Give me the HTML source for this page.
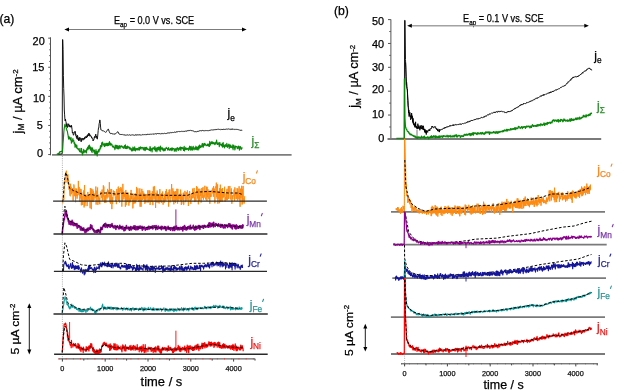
<!DOCTYPE html>
<html><head><meta charset="utf-8"><title>figure</title>
<style>html,body{margin:0;padding:0;background:#fff;width:637px;height:391px;overflow:hidden}svg{display:block;filter:blur(0.3px)}</style>
</head><body>
<svg width="637" height="391" viewBox="0 0 637 391" font-family='"Liberation Sans", sans-serif'>
<rect width="637" height="391" fill="#ffffff"/>
<text x="-0.60" y="23.10" font-size="12.20" fill="#000" text-anchor="start"  stroke="#000" stroke-width="0.25">(a)</text>
<text x="114.0" y="24.2" font-size="10.8" fill="#000" textLength="80.2" lengthAdjust="spacingAndGlyphs" stroke="#000" stroke-width="0.25">E<tspan font-size="7.5" dy="2.6">ap</tspan><tspan dy="-2.6"> = 0.0 V vs. SCE</tspan></text>
<line x1="68.00" y1="29.50" x2="242.00" y2="29.50" stroke="#7c7c7c" stroke-width="1.20"/>
<polygon points="64.40,29.50 69.00,27.40 69.00,31.60" fill="#000"/>
<polygon points="246.60,29.50 242.00,27.40 242.00,31.60" fill="#000"/>
<line x1="50.50" y1="37.30" x2="50.50" y2="155.30" stroke="#555555" stroke-width="1.00"/>
<line x1="48.20" y1="154.55" x2="50.50" y2="154.55" stroke="#555555" stroke-width="1.00"/>
<line x1="49.20" y1="148.73" x2="50.50" y2="148.73" stroke="#555555" stroke-width="0.90"/>
<line x1="49.20" y1="142.91" x2="50.50" y2="142.91" stroke="#555555" stroke-width="0.90"/>
<line x1="49.20" y1="137.09" x2="50.50" y2="137.09" stroke="#555555" stroke-width="0.90"/>
<line x1="49.20" y1="131.27" x2="50.50" y2="131.27" stroke="#555555" stroke-width="0.90"/>
<line x1="48.20" y1="125.45" x2="50.50" y2="125.45" stroke="#555555" stroke-width="1.00"/>
<line x1="49.20" y1="119.63" x2="50.50" y2="119.63" stroke="#555555" stroke-width="0.90"/>
<line x1="49.20" y1="113.81" x2="50.50" y2="113.81" stroke="#555555" stroke-width="0.90"/>
<line x1="49.20" y1="107.99" x2="50.50" y2="107.99" stroke="#555555" stroke-width="0.90"/>
<line x1="49.20" y1="102.17" x2="50.50" y2="102.17" stroke="#555555" stroke-width="0.90"/>
<line x1="48.20" y1="96.35" x2="50.50" y2="96.35" stroke="#555555" stroke-width="1.00"/>
<line x1="49.20" y1="90.53" x2="50.50" y2="90.53" stroke="#555555" stroke-width="0.90"/>
<line x1="49.20" y1="84.71" x2="50.50" y2="84.71" stroke="#555555" stroke-width="0.90"/>
<line x1="49.20" y1="78.89" x2="50.50" y2="78.89" stroke="#555555" stroke-width="0.90"/>
<line x1="49.20" y1="73.07" x2="50.50" y2="73.07" stroke="#555555" stroke-width="0.90"/>
<line x1="48.20" y1="67.25" x2="50.50" y2="67.25" stroke="#555555" stroke-width="1.00"/>
<line x1="49.20" y1="61.43" x2="50.50" y2="61.43" stroke="#555555" stroke-width="0.90"/>
<line x1="49.20" y1="55.61" x2="50.50" y2="55.61" stroke="#555555" stroke-width="0.90"/>
<line x1="49.20" y1="49.79" x2="50.50" y2="49.79" stroke="#555555" stroke-width="0.90"/>
<line x1="49.20" y1="43.97" x2="50.50" y2="43.97" stroke="#555555" stroke-width="0.90"/>
<line x1="48.20" y1="38.15" x2="50.50" y2="38.15" stroke="#555555" stroke-width="1.00"/>
<text x="38.65" y="44.50" font-size="10.90" fill="#000" text-anchor="middle"  stroke="#000" stroke-width="0.25">20</text>
<text x="38.30" y="71.30" font-size="10.90" fill="#000" text-anchor="middle"  stroke="#000" stroke-width="0.25">15</text>
<text x="39.00" y="101.55" font-size="10.90" fill="#000" text-anchor="middle"  stroke="#000" stroke-width="0.25">10</text>
<text x="39.70" y="129.45" font-size="10.90" fill="#000" text-anchor="middle"  stroke="#000" stroke-width="0.25">5</text>
<text x="40.10" y="156.95" font-size="10.90" fill="#000" text-anchor="middle"  stroke="#000" stroke-width="0.25">0</text>
<text transform="translate(22.0,133.4) rotate(-90)" font-size="13" fill="#000" textLength="64" lengthAdjust="spacingAndGlyphs" stroke="#000" stroke-width="0.25">j<tspan font-size="8.2" dy="2.4">M</tspan><tspan dy="-2.4"> / µA cm</tspan><tspan font-size="8" dy="-3.8">-2</tspan></text>
<line x1="62.40" y1="156.00" x2="62.40" y2="361.00" stroke="#9a9a9a" stroke-width="0.80" stroke-dasharray="1,1.2"/>
<line x1="52.00" y1="154.80" x2="291.60" y2="154.80" stroke="#7d7d7d" stroke-width="1.80"/>
<polyline points="58.00,154.40 62.20,153.80 62.50,39.60 62.80,39.60 63.10,49.73 63.40,75.33 63.70,88.50 64.00,96.00 64.30,110.00 64.60,114.85 64.90,119.00 65.20,121.00 65.50,119.21 65.80,121.44 66.10,121.82 66.40,126.29 66.70,126.60 67.00,123.60 67.30,127.59 67.60,127.37 67.90,125.87 68.20,125.56 68.50,123.88 68.80,123.84 69.10,126.68 69.40,125.20 69.70,126.35 70.00,127.16 70.30,125.61 70.60,126.90 70.90,126.18 71.20,127.33 71.50,125.29 71.80,127.46 72.10,129.61 72.40,133.09 72.70,133.04 73.00,132.14 73.30,135.20 73.60,135.09 73.90,134.29 74.20,133.60 74.50,131.77 74.80,131.28 75.10,131.73 75.40,131.56 75.70,135.41 76.00,134.59 76.30,137.34 76.60,136.10 76.90,138.92 77.20,138.73 77.50,135.30 77.80,136.52 78.10,139.91 78.40,138.27 78.70,140.81 79.00,138.55 79.30,137.24 79.60,139.80 79.90,140.57 80.20,138.45 80.50,137.76 80.80,138.96 81.10,141.85 81.40,141.06 81.70,138.28 82.00,138.72 82.30,138.59 82.60,138.35 82.90,140.29 83.20,138.43 83.50,139.37 83.80,138.94 84.10,138.04 84.40,139.28 84.70,137.32 85.00,138.48 85.30,136.73 85.60,137.30 85.90,136.44 86.20,136.32 86.50,138.01 86.80,137.23 87.10,135.51 87.40,136.81 87.70,134.60 88.00,134.79 88.30,135.75 88.60,134.83 88.90,132.99 89.20,135.66 89.50,133.92 89.80,134.48 90.10,136.35 90.40,135.54 90.70,135.89 91.00,135.68 91.30,136.13 91.60,137.92 91.90,137.38 92.20,138.79 92.50,138.55 92.80,139.19 93.10,141.01 93.40,139.75 93.70,139.41 94.00,139.63 94.30,137.11 94.60,136.43 94.90,137.94 95.20,137.09 95.50,134.90 95.80,134.13 96.10,136.29 96.40,137.47 96.70,136.01 97.00,138.74 97.30,139.16 97.60,136.93 97.90,133.92 98.20,130.54 98.50,127.86 98.80,127.96 99.10,123.67 99.40,123.17 99.70,120.12 100.00,119.91 100.30,123.18 100.60,127.13 100.90,129.84 101.20,130.27 101.50,129.97 101.80,130.17 102.10,130.47 102.40,130.74 102.70,130.70 103.00,130.60 103.30,131.11 103.60,130.88 103.90,130.96 104.20,131.30 104.50,131.60 104.80,131.56 105.10,131.82 105.40,132.13 105.70,132.44 106.00,131.77 106.30,131.50 106.60,131.41 106.90,131.06 107.20,130.45 107.50,130.07 107.80,129.59 108.10,128.92 108.40,129.20 108.70,129.91 109.00,131.16 109.30,131.75 109.60,132.62 109.90,132.77 110.20,133.41 110.50,133.36 110.80,133.55 111.10,133.35 111.40,133.80 111.70,133.28 112.00,133.61 112.30,133.76 112.60,133.90 112.90,133.85 113.20,133.87 113.50,133.97 113.80,134.08 114.10,133.79 114.40,134.03 114.70,134.20 115.00,134.22 115.30,133.73 115.60,133.72 115.90,133.54 116.20,133.14 116.50,132.95 116.80,132.58 117.10,132.47 117.40,132.27 117.70,131.72 118.00,131.83 118.30,132.20 118.60,133.03 118.90,133.84 119.20,133.97 119.50,134.23 119.80,134.18 120.10,134.15 120.40,134.44 120.70,134.04 121.00,134.49 121.30,134.11 121.60,134.50 121.90,134.48 122.20,134.38 122.50,134.71 122.80,134.64 123.10,134.76 123.40,135.00 123.70,134.65 124.00,134.55 124.30,134.78 124.60,135.06 124.90,134.82 125.20,134.80 125.50,135.24 125.80,135.10 126.10,134.97 126.40,135.24 126.70,134.90 127.00,135.10 127.30,134.82 127.60,134.96 127.90,135.18 128.20,135.25 128.50,135.23 128.80,134.93 129.10,135.05 129.40,134.89 129.70,134.78 130.00,135.00 130.30,135.20 130.60,135.21 130.90,135.13 131.20,135.27 131.50,134.87 131.80,134.80 132.10,134.97 132.40,134.87 132.70,134.83 133.00,134.95 133.30,135.08 133.60,135.00 133.90,134.89 134.20,135.20 134.50,135.29 134.80,134.97 135.10,134.74 135.40,134.72 135.70,135.22 136.00,134.72 136.30,135.13 136.60,135.04 136.90,134.89 137.20,135.17 137.50,134.71 137.80,134.78 138.10,134.97 138.40,134.71 138.70,135.20 139.00,134.84 139.30,134.78 139.60,134.73 139.90,135.08 140.20,134.95 140.50,135.03 140.80,135.02 141.10,135.09 141.40,135.15 141.70,134.96 142.00,134.64 142.30,134.78 142.60,134.57 142.90,134.45 143.20,134.70 143.50,134.81 143.80,134.47 144.10,134.49 144.40,134.51 144.70,134.70 145.00,134.56 145.30,134.59 145.60,134.65 145.90,134.41 146.20,134.62 146.50,134.66 146.80,134.14 147.10,134.62 147.40,134.47 147.70,134.08 148.00,134.25 148.30,134.33 148.60,134.47 148.90,134.13 149.20,134.21 149.50,134.37 149.80,134.30 150.10,134.36 150.40,134.06 150.70,134.16 151.00,133.89 151.30,134.18 151.60,134.23 151.90,134.11 152.20,134.15 152.50,133.83 152.80,134.23 153.10,134.27 153.40,134.26 153.70,133.98 154.00,134.12 154.30,133.83 154.60,134.17 154.90,134.13 155.20,133.81 155.50,133.64 155.80,133.85 156.10,133.90 156.40,134.02 156.70,133.84 157.00,133.55 157.30,134.01 157.60,133.55 157.90,133.98 158.20,133.60 158.50,133.68 158.80,133.94 159.10,133.54 159.40,133.54 159.70,133.75 160.00,133.86 160.30,133.92 160.60,133.82 160.90,133.96 161.20,133.67 161.50,133.94 161.80,133.41 162.10,133.48 162.40,133.65 162.70,133.50 163.00,133.75 163.30,133.68 163.60,133.58 163.90,133.73 164.20,133.53 164.50,133.34 164.80,133.35 165.10,133.59 165.40,133.59 165.70,133.14 166.00,133.49 166.30,133.52 166.60,133.22 166.90,133.21 167.20,132.95 167.50,133.12 167.80,133.06 168.10,133.09 168.40,132.70 168.70,133.23 169.00,132.92 169.30,132.82 169.60,133.02 169.90,132.84 170.20,132.76 170.50,132.85 170.80,132.44 171.10,132.68 171.40,132.57 171.70,132.86 172.00,132.81 172.30,132.38 172.60,132.47 172.90,132.22 173.20,132.37 173.50,132.56 173.80,132.58 174.10,132.29 174.40,132.15 174.70,132.04 175.00,132.26 175.30,132.41 175.60,131.90 175.90,132.25 176.20,131.76 176.50,131.83 176.80,131.82 177.10,132.06 177.40,131.81 177.70,131.80 178.00,131.92 178.30,131.58 178.60,131.93 178.90,131.53 179.20,131.73 179.50,131.54 179.80,131.48 180.10,131.64 180.40,131.56 180.70,131.49 181.00,131.48 181.30,131.52 181.60,131.26 181.90,131.26 182.20,131.48 182.50,131.45 182.80,131.36 183.10,131.52 183.40,131.34 183.70,131.46 184.00,131.05 184.30,131.32 184.60,131.33 184.90,131.36 185.20,130.97 185.50,130.94 185.80,131.27 186.10,130.82 186.40,131.25 186.70,131.16 187.00,130.67 187.30,130.70 187.60,130.96 187.90,130.65 188.20,130.52 188.50,130.93 188.80,130.65 189.10,130.84 189.40,130.41 189.70,130.54 190.00,130.68 190.30,130.25 190.60,130.33 190.90,130.58 191.20,130.69 191.50,130.69 191.80,130.27 192.10,130.65 192.40,130.94 192.70,130.94 193.00,131.19 193.30,131.04 193.60,131.11 193.90,131.28 194.20,131.38 194.50,131.84 194.80,131.96 195.10,131.99 195.40,131.67 195.70,131.62 196.00,131.56 196.30,131.87 196.60,131.89 196.90,131.79 197.20,131.22 197.50,131.13 197.80,131.59 198.10,131.22 198.40,131.34 198.70,131.00 199.00,131.02 199.30,130.97 199.60,130.85 199.90,130.88 200.20,130.50 200.50,130.90 200.80,130.97 201.10,130.55 201.40,130.70 201.70,130.86 202.00,130.64 202.30,130.50 202.60,130.47 202.90,130.66 203.20,130.35 203.50,130.86 203.80,130.79 204.10,130.72 204.40,130.79 204.70,130.64 205.00,130.49 205.30,130.59 205.60,130.52 205.90,130.79 206.20,130.67 206.50,130.33 206.80,130.70 207.10,130.59 207.40,130.59 207.70,130.60 208.00,130.34 208.30,130.62 208.60,130.59 208.90,130.47 209.20,130.50 209.50,130.48 209.80,130.25 210.10,130.41 210.40,129.98 210.70,130.10 211.00,130.13 211.30,129.82 211.60,129.99 211.90,130.11 212.20,130.07 212.50,129.79 212.80,130.18 213.10,129.97 213.40,129.73 213.70,129.89 214.00,129.79 214.30,129.73 214.60,129.60 214.90,129.93 215.20,129.67 215.50,129.67 215.80,129.66 216.10,129.76 216.40,129.14 216.70,129.47 217.00,129.54 217.30,129.24 217.60,129.32 217.90,129.11 218.20,129.19 218.50,129.29 218.80,129.12 219.10,129.21 219.40,129.59 219.70,129.37 220.00,129.34 220.30,129.61 220.60,129.37 220.90,129.62 221.20,129.40 221.50,129.50 221.80,129.05 222.10,129.36 222.40,129.45 222.70,129.02 223.00,129.54 223.30,129.08 223.60,129.26 223.90,129.07 224.20,129.26 224.50,129.32 224.80,128.99 225.10,129.51 225.40,129.19 225.70,129.25 226.00,129.29 226.30,129.15 226.60,129.09 226.90,129.31 227.20,129.25 227.50,129.07 227.80,129.33 228.10,129.07 228.40,128.90 228.70,129.03 229.00,128.90 229.30,128.97 229.60,129.32 229.90,129.10 230.20,129.39 230.50,129.30 230.80,128.88 231.10,129.43 231.40,129.40 231.70,128.87 232.00,129.37 232.30,129.08 232.60,129.10 232.90,129.39 233.20,128.95 233.50,129.14 233.80,129.43 234.10,129.34 234.40,129.23 234.70,129.57 235.00,129.51 235.30,129.43 235.60,129.17 235.90,129.52 236.20,129.46 236.50,129.34 236.80,129.29 237.10,129.62 237.40,129.42 237.70,129.65 238.00,129.82 238.30,129.73 238.60,129.66 238.90,129.89 239.20,129.83 239.50,130.08 239.80,129.98 240.10,130.30 240.40,130.31 240.70,130.22 241.00,129.96 241.30,129.92 241.60,130.43 241.90,130.40 242.20,130.35" fill="none" stroke="#000000" stroke-width="0.90" stroke-linejoin="round"/>
<polyline points="57.00,153.63 57.30,154.43 57.60,153.91 57.90,153.58 58.20,154.24 58.50,153.49 58.80,153.08 59.10,154.11 59.40,152.52 59.70,151.85 60.00,151.58 60.30,151.66 60.60,151.95 60.90,151.64 61.20,151.39 61.50,151.39 61.80,151.22 62.10,151.15 62.40,152.13 62.70,148.91 63.00,143.68 63.30,140.02 63.60,135.41 63.90,131.28 64.20,128.64 64.50,126.62 64.80,124.59 65.10,124.25 65.40,126.52 65.70,125.76 66.00,127.17 66.30,128.35 66.60,129.02 66.90,130.58 67.20,130.69 67.50,132.18 67.80,134.03 68.10,135.24 68.40,137.83 68.70,139.19 69.00,136.53 69.30,138.77 69.60,137.26 69.90,138.05 70.20,139.09 70.50,140.02 70.80,139.82 71.10,137.66 71.40,143.10 71.70,141.23 72.00,140.49 72.30,141.87 72.60,139.97 72.90,138.64 73.20,140.78 73.50,141.19 73.80,140.49 74.10,143.49 74.40,143.78 74.70,142.75 75.00,147.29 75.30,145.70 75.60,144.21 75.90,146.52 76.20,146.39 76.50,147.75 76.80,145.10 77.10,148.42 77.40,148.59 77.70,148.57 78.00,148.75 78.30,149.93 78.60,149.62 78.90,149.31 79.20,148.53 79.50,151.44 79.80,151.72 80.10,151.21 80.40,151.23 80.70,152.16 81.00,148.26 81.30,152.05 81.60,148.69 81.90,152.36 82.20,153.60 82.50,154.87 82.80,151.77 83.10,152.82 83.40,152.09 83.70,149.26 84.00,152.91 84.30,151.87 84.60,151.88 84.90,150.50 85.20,151.35 85.50,151.13 85.80,152.26 86.10,150.63 86.40,152.94 86.70,148.98 87.00,148.78 87.30,148.67 87.60,147.32 87.90,149.88 88.20,148.41 88.50,145.75 88.80,147.36 89.10,148.54 89.40,145.14 89.70,146.99 90.00,146.36 90.30,150.07 90.60,148.09 90.90,147.49 91.20,147.75 91.50,151.31 91.80,148.67 92.10,152.45 92.40,147.88 92.70,149.92 93.00,150.16 93.30,149.87 93.60,150.79 93.90,152.24 94.20,150.82 94.50,150.14 94.80,153.96 95.10,154.35 95.40,151.72 95.70,153.08 96.00,149.61 96.30,154.21 96.60,151.31 96.90,152.39 97.20,155.93 97.50,151.56 97.80,152.89 98.10,151.20 98.40,149.92 98.70,150.48 99.00,152.00 99.30,149.13 99.60,149.16 99.90,149.95 100.20,147.95 100.50,145.61 100.80,148.29 101.10,145.67 101.40,146.42 101.70,142.76 102.00,146.31 102.30,142.56 102.60,142.14 102.90,143.90 103.20,144.06 103.50,144.95 103.80,143.99 104.10,145.60 104.40,146.57 104.70,144.14 105.00,143.32 105.30,144.45 105.60,145.89 105.90,145.78 106.20,144.21 106.50,143.30 106.80,144.42 107.10,145.56 107.40,143.34 107.70,145.78 108.00,144.32 108.30,144.30 108.60,143.04 108.90,145.46 109.20,143.68 109.50,141.64 109.80,144.46 110.10,142.93 110.40,145.13 110.70,144.29 111.00,143.59 111.30,144.91 111.60,144.38 111.90,144.27 112.20,145.65 112.50,146.99 112.80,146.33 113.10,146.44 113.40,145.99 113.70,147.46 114.00,147.13 114.30,148.04 114.60,147.34 114.90,149.63 115.20,144.99 115.50,146.96 115.80,147.75 116.10,148.25 116.40,145.23 116.70,145.67 117.00,147.21 117.30,148.64 117.60,148.75 117.90,145.49 118.20,147.62 118.50,148.90 118.80,147.42 119.10,146.04 119.40,146.40 119.70,145.59 120.00,148.75 120.30,146.88 120.60,146.62 120.90,146.02 121.20,146.92 121.50,145.91 121.80,145.79 122.10,146.94 122.40,146.66 122.70,147.50 123.00,147.07 123.30,148.34 123.60,146.75 123.90,147.10 124.20,147.02 124.50,145.68 124.80,148.17 125.10,146.01 125.40,144.83 125.70,148.52 126.00,147.88 126.30,146.45 126.60,148.48 126.90,148.60 127.20,148.38 127.50,146.12 127.80,147.93 128.10,146.50 128.40,147.15 128.70,147.32 129.00,147.07 129.30,148.87 129.60,147.36 129.90,149.26 130.20,148.80 130.50,147.92 130.80,149.01 131.10,149.78 131.40,150.46 131.70,148.70 132.00,151.17 132.30,149.66 132.60,150.47 132.90,147.15 133.20,147.47 133.50,150.29 133.80,148.44 134.10,149.27 134.40,150.15 134.70,146.77 135.00,149.12 135.30,151.01 135.60,149.58 135.90,148.70 136.20,149.30 136.50,148.61 136.80,149.59 137.10,150.27 137.40,148.35 137.70,149.37 138.00,149.04 138.30,149.60 138.60,149.73 138.90,147.33 139.20,150.16 139.50,149.79 139.80,147.33 140.10,148.36 140.40,146.89 140.70,148.38 141.00,149.16 141.30,147.30 141.60,147.80 141.90,147.67 142.20,147.91 142.50,147.82 142.80,147.46 143.10,149.54 143.40,148.56 143.70,147.80 144.00,150.09 144.30,148.15 144.60,150.00 144.90,147.32 145.20,150.66 145.50,148.34 145.80,147.72 146.10,149.44 146.40,147.25 146.70,147.58 147.00,149.25 147.30,148.35 147.60,149.47 147.90,149.16 148.20,149.31 148.50,149.17 148.80,149.91 149.10,149.02 149.40,150.42 149.70,150.23 150.00,146.58 150.30,146.84 150.60,151.01 150.90,148.49 151.20,149.28 151.50,148.91 151.80,149.39 152.10,151.83 152.40,148.16 152.70,149.13 153.00,149.06 153.30,147.69 153.60,147.95 153.90,148.71 154.20,149.03 154.50,149.53 154.80,146.58 155.10,147.08 155.40,151.12 155.70,148.82 156.00,150.08 156.30,148.52 156.60,148.16 156.90,151.71 157.20,147.50 157.50,147.91 157.80,149.90 158.10,149.07 158.40,146.99 158.70,149.22 159.00,149.96 159.30,147.13 159.60,148.35 159.90,150.04 160.20,151.45 160.50,146.13 160.80,148.18 161.10,149.08 161.40,147.90 161.70,147.91 162.00,148.42 162.30,149.69 162.60,147.71 162.90,150.14 163.20,150.09 163.50,150.12 163.80,150.97 164.10,148.39 164.40,148.98 164.70,150.30 165.00,150.64 165.30,150.23 165.60,148.48 165.90,148.43 166.20,147.39 166.50,148.50 166.80,147.92 167.10,148.43 167.40,148.57 167.70,150.09 168.00,150.12 168.30,148.98 168.60,147.61 168.90,148.98 169.20,149.59 169.50,150.12 169.80,149.31 170.10,150.06 170.40,148.22 170.70,149.86 171.00,149.97 171.30,148.60 171.60,148.09 171.90,150.59 172.20,147.80 172.50,149.91 172.80,148.71 173.10,148.61 173.40,148.73 173.70,148.49 174.00,149.00 174.30,151.28 174.60,150.87 174.90,148.88 175.20,149.63 175.50,150.18 175.80,148.51 176.10,151.35 176.40,149.09 176.70,149.82 177.00,147.85 177.30,147.64 177.60,147.79 177.90,148.24 178.20,150.34 178.50,148.65 178.80,150.15 179.10,148.52 179.40,147.85 179.70,149.25 180.00,148.55 180.30,146.95 180.60,149.07 180.90,150.48 181.20,148.73 181.50,147.47 181.80,148.01 182.10,147.42 182.40,148.62 182.70,147.73 183.00,148.76 183.30,149.10 183.60,150.53 183.90,147.41 184.20,146.28 184.50,150.86 184.80,149.35 185.10,148.34 185.40,149.42 185.70,147.61 186.00,148.33 186.30,149.59 186.60,148.33 186.90,148.88 187.20,149.25 187.50,148.83 187.80,148.37 188.10,149.30 188.40,150.30 188.70,150.22 189.00,147.51 189.30,149.55 189.60,146.20 189.90,146.80 190.20,149.05 190.50,149.21 190.80,150.23 191.10,146.36 191.40,149.84 191.70,147.80 192.00,147.88 192.30,149.01 192.60,150.19 192.90,147.24 193.20,146.27 193.50,147.64 193.80,148.23 194.10,149.86 194.40,148.80 194.70,147.96 195.00,147.68 195.30,147.72 195.60,149.50 195.90,146.20 196.20,147.39 196.50,147.15 196.80,149.58 197.10,148.23 197.40,147.14 197.70,148.82 198.00,150.23 198.30,148.97 198.60,145.96 198.90,147.24 199.20,148.82 199.50,145.04 199.80,145.67 200.10,146.59 200.40,147.66 200.70,145.89 201.00,147.00 201.30,146.52 201.60,147.02 201.90,145.02 202.20,143.65 202.50,143.64 202.80,146.44 203.10,147.35 203.40,146.64 203.70,143.93 204.00,143.67 204.30,145.38 204.60,144.50 204.90,143.25 205.20,144.72 205.50,144.36 205.80,145.11 206.10,145.63 206.40,145.30 206.70,145.20 207.00,145.54 207.30,144.67 207.60,144.15 207.90,144.20 208.20,146.02 208.50,144.10 208.80,145.38 209.10,146.36 209.40,146.37 209.70,141.43 210.00,144.21 210.30,145.22 210.60,143.39 210.90,143.04 211.20,142.11 211.50,143.02 211.80,143.83 212.10,141.45 212.40,143.75 212.70,142.69 213.00,143.73 213.30,142.32 213.60,143.74 213.90,143.81 214.20,142.71 214.50,142.71 214.80,144.70 215.10,144.27 215.40,142.47 215.70,143.96 216.00,141.94 216.30,142.70 216.60,140.18 216.90,142.70 217.20,144.34 217.50,142.96 217.80,144.40 218.10,142.95 218.40,144.21 218.70,143.73 219.00,142.78 219.30,146.71 219.60,143.12 219.90,142.58 220.20,144.51 220.50,145.03 220.80,144.95 221.10,144.47 221.40,145.27 221.70,145.94 222.00,145.64 222.30,143.22 222.60,147.19 222.90,145.08 223.20,142.64 223.50,146.33 223.80,145.19 224.10,145.81 224.40,148.03 224.70,144.96 225.00,144.94 225.30,144.52 225.60,146.02 225.90,146.64 226.20,146.34 226.50,146.09 226.80,143.26 227.10,146.28 227.40,147.33 227.70,145.37 228.00,145.38 228.30,144.81 228.60,146.41 228.90,144.19 229.20,148.56 229.50,145.96 229.80,145.49 230.10,144.75 230.40,146.98 230.70,147.55 231.00,145.67 231.30,146.62 231.60,146.80 231.90,147.68 232.20,147.27 232.50,148.08 232.80,144.80 233.10,149.70 233.40,146.01 233.70,145.29 234.00,145.58 234.30,147.28 234.60,147.81 234.90,149.93 235.20,148.49 235.50,146.05 235.80,146.63 236.10,146.53 236.40,146.42 236.70,147.00 237.00,146.50 237.30,148.79 237.60,147.79 237.90,148.21 238.20,147.29 238.50,146.09 238.80,148.13 239.10,147.15 239.40,150.18 239.70,149.28 240.00,146.29 240.30,146.62 240.60,147.22 240.90,147.69 241.20,149.44 241.50,147.84 241.80,148.69 242.10,147.77 242.40,147.95" fill="none" stroke="#0b870b" stroke-width="1.15" stroke-linejoin="round"/>
<polyline points="62.60,203.57 62.85,202.70 63.10,197.91 63.35,195.89 63.60,196.25 63.85,199.75 64.10,191.25 64.35,181.68 64.60,180.80 64.85,181.38 65.10,183.21 65.35,176.35 65.60,172.18 65.85,172.02 66.10,174.26 66.35,170.71 66.60,174.49 66.85,176.14 67.10,182.68 67.35,175.86 67.60,181.75 67.85,174.31 68.10,184.01 68.35,182.31 68.60,180.59 68.85,184.23 69.10,189.68 69.35,185.65 69.60,192.97 69.85,195.39 70.10,196.06 70.35,196.28 70.60,183.76 70.85,191.10 71.10,186.82 71.35,194.23 71.60,190.62 71.85,191.51 72.10,192.79 72.35,188.37 72.60,191.64 72.85,188.26 73.10,200.87 73.35,189.89 73.60,192.17 73.85,184.44 74.10,185.83 74.35,188.79 74.60,196.13 74.85,196.15 75.10,194.28 75.35,189.88 75.60,202.24 75.85,188.26 76.10,189.22 76.35,195.93 76.60,188.79 76.85,195.12 77.10,198.70 77.35,193.73 77.60,196.20 77.85,194.52 78.10,191.15 78.35,180.91 78.60,188.73 78.85,194.82 79.10,186.91 79.35,192.34 79.60,196.26 79.85,201.94 80.10,188.78 80.35,193.03 80.60,196.87 80.85,198.48 81.10,189.22 81.35,205.31 81.60,192.25 81.85,201.76 82.10,195.53 82.35,198.65 82.60,204.98 82.85,200.38 83.10,197.65 83.35,192.18 83.60,194.02 83.85,190.34 84.10,207.46 84.35,189.95 84.60,185.03 84.85,205.98 85.10,204.30 85.35,196.33 85.60,202.37 85.85,194.29 86.10,195.63 86.35,200.85 86.60,200.22 86.85,195.91 87.10,206.10 87.35,201.61 87.60,198.55 87.85,191.91 88.10,198.34 88.35,195.99 88.60,197.08 88.85,201.32 89.10,194.41 89.35,198.47 89.60,201.00 89.85,198.70 90.10,208.22 90.35,188.10 90.60,196.33 90.85,190.71 91.10,196.31 91.35,209.20 91.60,188.67 91.85,195.42 92.10,200.19 92.35,197.48 92.60,201.63 92.85,189.45 93.10,202.08 93.35,192.57 93.60,191.35 93.85,200.27 94.10,199.90 94.35,193.99 94.60,193.62 94.85,196.76 95.10,197.78 95.35,197.06 95.60,192.94 95.85,186.53 96.10,204.64 96.35,199.06 96.60,192.11 96.85,190.55 97.10,194.97 97.35,196.19 97.60,187.50 97.85,204.86 98.10,199.86 98.35,195.98 98.60,199.15 98.85,198.39 99.10,202.35 99.35,197.68 99.60,203.02 99.85,204.26 100.10,194.86 100.35,194.00 100.60,191.69 100.85,194.76 101.10,192.14 101.35,195.63 101.60,196.94 101.85,197.96 102.10,189.54 102.35,200.66 102.60,193.74 102.85,194.72 103.10,192.72 103.35,185.33 103.60,196.54 103.85,186.46 104.10,200.78 104.35,195.47 104.60,203.03 104.85,198.50 105.10,198.77 105.35,202.23 105.60,195.06 105.85,202.92 106.10,194.63 106.35,196.55 106.60,191.90 106.85,197.97 107.10,198.59 107.35,192.76 107.60,188.89 107.85,195.08 108.10,197.36 108.35,194.47 108.60,190.41 108.85,191.66 109.10,193.94 109.35,182.19 109.60,192.34 109.85,202.45 110.10,188.96 110.35,194.31 110.60,203.84 110.85,199.01 111.10,200.12 111.35,194.85 111.60,189.02 111.85,209.12 112.10,197.22 112.35,196.96 112.60,203.98 112.85,199.89 113.10,196.20 113.35,190.46 113.60,195.23 113.85,195.31 114.10,192.72 114.35,191.83 114.60,191.20 114.85,195.64 115.10,193.32 115.35,198.35 115.60,201.41 115.85,197.98 116.10,196.53 116.35,204.15 116.60,199.60 116.85,188.96 117.10,192.70 117.35,197.19 117.60,191.81 117.85,199.92 118.10,187.39 118.35,186.57 118.60,200.91 118.85,198.88 119.10,187.99 119.35,196.29 119.60,202.56 119.85,190.29 120.10,189.88 120.35,189.70 120.60,190.82 120.85,187.04 121.10,193.23 121.35,188.38 121.60,195.87 121.85,206.64 122.10,190.25 122.35,199.96 122.60,201.22 122.85,183.87 123.10,195.87 123.35,195.23 123.60,193.57 123.85,199.20 124.10,193.07 124.35,197.05 124.60,193.40 124.85,194.69 125.10,191.51 125.35,206.78 125.60,195.21 125.85,189.95 126.10,205.27 126.35,203.45 126.60,194.66 126.85,192.42 127.10,192.05 127.35,201.90 127.60,194.17 127.85,192.29 128.10,200.07 128.35,194.57 128.60,195.68 128.85,205.63 129.10,200.33 129.35,202.26 129.60,198.18 129.85,202.55 130.10,195.33 130.35,201.02 130.60,201.47 130.85,194.24 131.10,189.93 131.35,199.04 131.60,195.81 131.85,199.47 132.10,193.48 132.35,199.15 132.60,201.34 132.85,208.36 133.10,205.52 133.35,198.60 133.60,203.84 133.85,193.60 134.10,202.60 134.35,197.48 134.60,203.45 134.85,198.52 135.10,195.75 135.35,193.39 135.60,203.22 135.85,197.29 136.10,200.59 136.35,199.47 136.60,186.93 136.85,200.15 137.10,195.32 137.35,199.16 137.60,199.64 137.85,188.29 138.10,195.74 138.35,197.05 138.60,199.32 138.85,202.10 139.10,194.06 139.35,196.34 139.60,200.60 139.85,188.36 140.10,206.70 140.35,192.74 140.60,203.98 140.85,198.13 141.10,206.76 141.35,202.55 141.60,197.18 141.85,188.88 142.10,197.96 142.35,198.91 142.60,199.98 142.85,190.98 143.10,193.12 143.35,193.34 143.60,198.59 143.85,192.85 144.10,196.57 144.35,201.76 144.60,195.03 144.85,203.80 145.10,198.55 145.35,195.83 145.60,202.49 145.85,199.48 146.10,195.58 146.35,194.06 146.60,196.74 146.85,198.67 147.10,202.61 147.35,198.25 147.60,193.82 147.85,190.27 148.10,198.12 148.35,198.79 148.60,202.45 148.85,194.17 149.10,190.34 149.35,200.92 149.60,195.88 149.85,190.67 150.10,204.96 150.35,201.14 150.60,197.06 150.85,198.14 151.10,193.06 151.35,201.71 151.60,194.64 151.85,194.56 152.10,195.34 152.35,191.17 152.60,201.96 152.85,205.15 153.10,200.66 153.35,186.67 153.60,195.38 153.85,193.73 154.10,198.78 154.35,186.29 154.60,186.24 154.85,194.68 155.10,201.85 155.35,196.05 155.60,207.96 155.85,192.80 156.10,197.22 156.35,196.30 156.60,192.92 156.85,202.58 157.10,190.50 157.35,191.84 157.60,195.30 157.85,194.73 158.10,202.73 158.35,194.51 158.60,199.64 158.85,194.85 159.10,203.52 159.35,197.10 159.60,198.50 159.85,189.10 160.10,200.73 160.35,194.04 160.60,201.66 160.85,199.79 161.10,199.98 161.35,202.89 161.60,199.17 161.85,192.95 162.10,198.11 162.35,198.19 162.60,191.51 162.85,200.42 163.10,204.67 163.35,198.60 163.60,197.97 163.85,199.71 164.10,202.89 164.35,194.76 164.60,202.19 164.85,193.78 165.10,200.12 165.35,200.07 165.60,191.13 165.85,200.78 166.10,198.59 166.35,189.23 166.60,195.27 166.85,194.40 167.10,193.09 167.35,199.57 167.60,193.58 167.85,197.76 168.10,192.12 168.35,196.20 168.60,206.57 168.85,199.56 169.10,189.79 169.35,192.84 169.60,196.82 169.85,189.43 170.10,202.36 170.35,197.30 170.60,197.16 170.85,197.77 171.10,194.12 171.35,191.83 171.60,184.00 171.85,189.46 172.10,198.68 172.35,200.89 172.60,196.59 172.85,188.40 173.10,195.83 173.35,197.68 173.60,191.08 173.85,204.30 174.10,191.94 174.35,197.51 174.60,192.09 174.85,202.00 175.10,191.24 175.35,193.04 175.60,203.03 175.85,191.25 176.10,194.82 176.35,200.19 176.60,199.27 176.85,188.80 177.10,200.50 177.35,196.05 177.60,203.56 177.85,188.90 178.10,201.30 178.35,199.50 178.60,195.62 178.85,195.41 179.10,199.41 179.35,194.08 179.60,195.77 179.85,193.69 180.10,198.18 180.35,200.84 180.60,189.60 180.85,197.62 181.10,199.03 181.35,204.96 181.60,193.81 181.85,203.73 182.10,195.28 182.35,199.91 182.60,198.59 182.85,198.84 183.10,195.79 183.35,192.62 183.60,204.87 183.85,204.71 184.10,196.92 184.35,196.65 184.60,196.44 184.85,190.87 185.10,191.97 185.35,199.54 185.60,202.20 185.85,196.36 186.10,192.84 186.35,192.13 186.60,194.43 186.85,200.94 187.10,197.72 187.35,190.40 187.60,191.71 187.85,199.05 188.10,198.80 188.35,205.95 188.60,204.26 188.85,197.94 189.10,193.55 189.35,197.83 189.60,191.09 189.85,193.21 190.10,201.51 190.35,199.46 190.60,200.90 190.85,203.96 191.10,194.08 191.35,200.00 191.60,196.29 191.85,197.38 192.10,196.86 192.35,198.30 192.60,188.66 192.85,188.63 193.10,195.79 193.35,197.65 193.60,192.73 193.85,194.52 194.10,187.95 194.35,199.60 194.60,197.01 194.85,202.08 195.10,192.51 195.35,193.95 195.60,194.71 195.85,201.14 196.10,197.14 196.35,196.27 196.60,186.16 196.85,190.04 197.10,186.99 197.35,193.35 197.60,198.52 197.85,194.51 198.10,189.66 198.35,204.30 198.60,188.74 198.85,201.05 199.10,199.93 199.35,195.44 199.60,200.84 199.85,188.74 200.10,191.36 200.35,192.61 200.60,195.94 200.85,193.19 201.10,202.52 201.35,192.17 201.60,192.89 201.85,188.00 202.10,196.38 202.35,197.93 202.60,190.24 202.85,187.72 203.10,187.07 203.35,199.72 203.60,197.83 203.85,195.28 204.10,197.65 204.35,196.29 204.60,196.12 204.85,185.81 205.10,196.40 205.35,197.31 205.60,199.44 205.85,198.59 206.10,190.41 206.35,195.07 206.60,186.73 206.85,200.88 207.10,186.92 207.35,197.20 207.60,189.78 207.85,189.63 208.10,189.23 208.35,192.03 208.60,195.52 208.85,199.18 209.10,192.13 209.35,197.84 209.60,197.90 209.85,203.80 210.10,190.65 210.35,195.16 210.60,197.08 210.85,194.39 211.10,196.79 211.35,190.41 211.60,191.96 211.85,190.64 212.10,190.61 212.35,189.39 212.60,193.32 212.85,187.76 213.10,191.02 213.35,196.77 213.60,186.10 213.85,188.68 214.10,191.92 214.35,188.66 214.60,189.03 214.85,203.32 215.10,195.66 215.35,191.77 215.60,190.40 215.85,186.36 216.10,188.34 216.35,182.63 216.60,196.91 216.85,191.62 217.10,198.68 217.35,194.16 217.60,184.31 217.85,203.67 218.10,196.81 218.35,198.69 218.60,191.55 218.85,191.54 219.10,193.45 219.35,203.26 219.60,188.17 219.85,189.10 220.10,197.00 220.35,184.68 220.60,201.83 220.85,188.78 221.10,200.40 221.35,193.80 221.60,192.81 221.85,188.90 222.10,201.81 222.35,193.28 222.60,188.00 222.85,197.84 223.10,194.01 223.35,197.29 223.60,192.73 223.85,196.58 224.10,197.03 224.35,194.90 224.60,186.73 224.85,197.29 225.10,201.70 225.35,197.07 225.60,199.53 225.85,198.82 226.10,193.45 226.35,200.23 226.60,193.81 226.85,190.04 227.10,188.80 227.35,200.18 227.60,198.58 227.85,198.23 228.10,192.34 228.35,186.13 228.60,199.02 228.85,194.70 229.10,192.14 229.35,192.13 229.60,192.32 229.85,185.96 230.10,198.24 230.35,198.65 230.60,199.49 230.85,193.38 231.10,188.97 231.35,188.38 231.60,193.63 231.85,203.80 232.10,199.76 232.35,195.30 232.60,197.50 232.85,199.19 233.10,195.46 233.35,196.30 233.60,196.21 233.85,192.28 234.10,189.50 234.35,192.38 234.60,200.87 234.85,187.34 235.10,193.00 235.35,193.10 235.60,195.35 235.85,192.94 236.10,199.07 236.35,193.34 236.60,195.14 236.85,198.69 237.10,188.17 237.35,200.58 237.60,200.27 237.85,188.66 238.10,194.78 238.35,191.63 238.60,193.58 238.85,199.34 239.10,186.28 239.35,199.81 239.60,197.83 239.85,195.77 240.10,206.82 240.35,193.51 240.60,188.61 240.85,198.01 241.10,196.91 241.35,193.16 241.60,185.82 241.85,187.05 242.10,204.59 242.35,189.10 242.60,203.52 242.85,200.77 243.10,185.89 243.35,197.78 243.60,200.05 243.85,202.43 244.10,203.57 244.35,203.27 244.60,196.90 244.85,195.93" fill="none" stroke="#ff8a10" stroke-width="0.95" stroke-linejoin="round"/>
<polyline points="62.60,202.00 63.30,197.70 64.50,180.00 65.70,172.60 67.30,176.50 69.60,188.30 73.50,190.60 81.40,193.80 86.10,196.10 90.80,194.20 97.10,196.10 101.80,193.00 109.60,193.00 116.00,194.20 123.80,193.00 131.60,194.20 139.50,195.30 150.00,194.80 165.70,195.30 187.70,195.30 195.50,192.20 209.70,191.40 228.50,193.00 237.90,193.00 242.60,194.50" fill="none" stroke="#000000" stroke-width="1.00" stroke-linejoin="round" stroke-dasharray="2.6,1.8"/>
<polyline points="62.20,234.34 62.50,231.12 62.80,227.05 63.10,226.67 63.40,223.25 63.70,221.34 64.00,219.53 64.30,219.55 64.60,217.18 64.90,215.93 65.20,212.56 65.50,211.49 65.80,211.43 66.10,212.93 66.40,211.05 66.70,216.62 67.00,215.93 67.30,216.91 67.60,218.86 67.90,218.46 68.20,220.23 68.50,221.89 68.80,220.19 69.10,224.15 69.40,222.38 69.70,223.03 70.00,221.19 70.30,221.77 70.60,224.59 70.90,222.07 71.20,222.31 71.50,223.45 71.80,224.66 72.10,220.30 72.40,224.91 72.70,223.58 73.00,224.42 73.30,222.26 73.60,223.94 73.90,225.62 74.20,223.76 74.50,223.28 74.80,223.66 75.10,223.70 75.40,225.41 75.70,224.86 76.00,224.19 76.30,225.85 76.60,223.79 76.90,223.53 77.20,228.10 77.50,224.78 77.80,227.59 78.10,225.72 78.40,225.75 78.70,226.87 79.00,225.50 79.30,225.76 79.60,226.76 79.90,226.79 80.20,228.35 80.50,230.05 80.80,226.61 81.10,227.21 81.40,229.39 81.70,229.35 82.00,230.32 82.30,228.37 82.60,230.20 82.90,229.68 83.20,227.94 83.50,230.46 83.80,228.14 84.10,230.69 84.40,229.58 84.70,229.94 85.00,232.76 85.30,232.10 85.60,230.86 85.90,230.89 86.20,229.57 86.50,232.01 86.80,231.34 87.10,229.45 87.40,228.26 87.70,229.99 88.00,229.54 88.30,230.53 88.60,228.06 88.90,227.99 89.20,229.29 89.50,228.66 89.80,229.44 90.10,229.40 90.40,226.78 90.70,224.83 91.00,227.76 91.30,227.08 91.60,228.47 91.90,225.66 92.20,228.57 92.50,229.04 92.80,228.52 93.10,230.04 93.40,229.81 93.70,230.21 94.00,231.71 94.30,231.96 94.60,232.10 94.90,231.37 95.20,231.35 95.50,232.09 95.80,231.80 96.10,230.56 96.40,231.89 96.70,232.51 97.00,230.95 97.30,230.14 97.60,232.11 97.90,230.54 98.20,229.67 98.50,231.14 98.80,229.70 99.10,231.82 99.40,230.82 99.70,231.52 100.00,232.77 100.30,232.55 100.60,230.53 100.90,227.39 101.20,228.90 101.50,227.49 101.80,229.33 102.10,229.52 102.40,227.92 102.70,227.26 103.00,226.57 103.30,226.13 103.60,224.71 103.90,226.24 104.20,224.85 104.50,223.88 104.80,225.33 105.10,227.18 105.40,225.11 105.70,223.28 106.00,226.85 106.30,225.71 106.60,226.10 106.90,224.94 107.20,226.09 107.50,227.45 107.80,224.82 108.10,226.42 108.40,226.06 108.70,224.66 109.00,225.92 109.30,226.43 109.60,224.77 109.90,227.17 110.20,224.52 110.50,227.22 110.80,226.62 111.10,226.22 111.40,225.06 111.70,225.14 112.00,223.53 112.30,226.18 112.60,226.14 112.90,227.02 113.20,227.64 113.50,226.75 113.80,226.20 114.10,227.83 114.40,226.73 114.70,226.79 115.00,225.52 115.30,228.21 115.60,226.26 115.90,229.40 116.20,226.19 116.50,226.71 116.80,227.46 117.10,226.61 117.40,225.79 117.70,226.21 118.00,226.62 118.30,227.34 118.60,228.80 118.90,228.46 119.20,228.08 119.50,228.69 119.80,225.21 120.10,227.07 120.40,227.18 120.70,226.64 121.00,228.45 121.30,227.15 121.60,226.66 121.90,229.02 122.20,227.24 122.50,227.75 122.80,226.30 123.10,229.16 123.40,228.18 123.70,229.85 124.00,230.77 124.30,229.00 124.60,227.83 124.90,227.36 125.20,230.23 125.50,228.09 125.80,229.07 126.10,228.61 126.40,225.55 126.70,228.50 127.00,228.52 127.30,228.57 127.60,228.17 127.90,228.61 128.20,227.15 128.50,229.04 128.80,227.73 129.10,228.52 129.40,230.26 129.70,228.59 130.00,227.13 130.30,228.76 130.60,226.64 130.90,228.53 131.20,229.97 131.50,227.10 131.80,228.16 132.10,227.31 132.40,228.53 132.70,228.72 133.00,228.54 133.30,228.00 133.60,226.09 133.90,227.25 134.20,227.77 134.50,229.22 134.80,225.92 135.10,229.51 135.40,227.35 135.70,226.26 136.00,229.89 136.30,228.58 136.60,227.08 136.90,228.46 137.20,228.84 137.50,226.46 137.80,229.61 138.10,227.11 138.40,229.03 138.70,227.42 139.00,226.21 139.30,227.34 139.60,227.42 139.90,228.15 140.20,226.05 140.50,226.81 140.80,228.33 141.10,227.51 141.40,227.33 141.70,228.43 142.00,226.37 142.30,230.21 142.60,227.01 142.90,228.29 143.20,227.66 143.50,228.98 143.80,227.31 144.10,226.90 144.40,228.07 144.70,228.48 145.00,227.59 145.30,230.11 145.60,228.60 145.90,229.31 146.20,229.18 146.50,228.88 146.80,227.46 147.10,229.54 147.40,227.22 147.70,227.79 148.00,229.23 148.30,228.68 148.60,226.34 148.90,227.22 149.20,226.53 149.50,228.87 149.80,227.12 150.10,227.55 150.40,226.75 150.70,226.97 151.00,228.34 151.30,226.43 151.60,227.66 151.90,227.05 152.20,227.21 152.50,226.17 152.80,229.00 153.10,225.82 153.40,226.28 153.70,227.22 154.00,227.80 154.30,226.86 154.60,225.88 154.90,227.21 155.20,226.62 155.50,227.01 155.80,229.64 156.10,225.46 156.40,227.80 156.70,228.27 157.00,227.38 157.30,227.46 157.60,229.11 157.90,227.67 158.20,225.94 158.50,227.50 158.80,228.37 159.10,227.52 159.40,227.31 159.70,228.19 160.00,227.44 160.30,228.17 160.60,228.78 160.90,227.34 161.20,226.27 161.50,229.59 161.80,228.54 162.10,227.23 162.40,226.51 162.70,228.15 163.00,228.39 163.30,228.73 163.60,228.60 163.90,227.70 164.20,227.75 164.50,226.50 164.80,227.40 165.10,227.72 165.40,229.50 165.70,226.79 166.00,230.42 166.30,229.31 166.60,227.71 166.90,227.61 167.20,228.54 167.50,228.74 167.80,229.10 168.10,226.32 168.40,227.90 168.70,228.87 169.00,229.32 169.30,228.81 169.60,228.19 169.90,228.64 170.20,227.70 170.50,230.25 170.80,229.33 171.10,228.75 171.40,227.65 171.70,228.24 172.00,228.72 172.30,228.40 172.60,230.14 172.90,230.64 173.20,229.41 173.50,226.99 173.80,229.09 174.10,227.72 174.40,228.31 174.70,230.52 175.00,226.34 175.30,226.76 175.60,227.58 175.90,229.18 176.20,227.84 176.50,226.07 176.80,228.73 177.10,229.04 177.40,229.70 177.70,228.42 178.00,229.56 178.30,227.64 178.60,229.30 178.90,229.66 179.20,227.99 179.50,227.88 179.80,229.69 180.10,227.47 180.40,227.29 180.70,228.36 181.00,228.96 181.30,229.35 181.60,227.77 181.90,228.90 182.20,227.32 182.50,227.01 182.80,231.05 183.10,227.48 183.40,226.59 183.70,228.67 184.00,227.47 184.30,229.13 184.60,225.55 184.90,227.03 185.20,229.48 185.50,228.62 185.80,227.27 186.10,230.00 186.40,229.48 186.70,227.92 187.00,229.60 187.30,229.01 187.60,226.88 187.90,227.41 188.20,228.46 188.50,227.02 188.80,226.42 189.10,227.61 189.40,228.96 189.70,228.27 190.00,226.95 190.30,225.33 190.60,228.89 190.90,227.72 191.20,228.88 191.50,227.82 191.80,227.33 192.10,228.11 192.40,227.02 192.70,227.21 193.00,226.75 193.30,225.29 193.60,228.92 193.90,228.93 194.20,227.04 194.50,227.20 194.80,230.23 195.10,228.24 195.40,227.12 195.70,226.17 196.00,229.48 196.30,228.98 196.60,226.55 196.90,228.25 197.20,226.36 197.50,227.02 197.80,228.58 198.10,226.99 198.40,226.47 198.70,225.55 199.00,227.82 199.30,226.89 199.60,225.68 199.90,229.35 200.20,226.19 200.50,226.32 200.80,227.34 201.10,226.51 201.40,226.83 201.70,227.21 202.00,226.14 202.30,225.59 202.60,226.26 202.90,227.73 203.20,226.53 203.50,228.25 203.80,226.54 204.10,225.35 204.40,226.61 204.70,226.09 205.00,225.71 205.30,225.99 205.60,227.24 205.90,227.10 206.20,226.48 206.50,226.29 206.80,226.73 207.10,226.77 207.40,226.36 207.70,225.08 208.00,227.19 208.30,227.09 208.60,227.24 208.90,222.95 209.20,226.28 209.50,225.81 209.80,222.81 210.10,226.89 210.40,223.26 210.70,224.86 211.00,225.58 211.30,226.55 211.60,224.98 211.90,224.51 212.20,223.16 212.50,224.86 212.80,225.78 213.10,223.56 213.40,226.87 213.70,222.40 214.00,224.50 214.30,224.67 214.60,225.26 214.90,225.58 215.20,226.47 215.50,224.54 215.80,223.47 216.10,223.92 216.40,224.88 216.70,224.28 217.00,224.92 217.30,225.10 217.60,225.32 217.90,226.37 218.20,225.82 218.50,223.83 218.80,224.53 219.10,224.75 219.40,224.79 219.70,226.32 220.00,226.46 220.30,225.80 220.60,227.20 220.90,224.42 221.20,225.53 221.50,226.84 221.80,225.53 222.10,224.84 222.40,224.68 222.70,226.75 223.00,226.54 223.30,227.86 223.60,227.90 223.90,225.94 224.20,225.14 224.50,224.73 224.80,225.18 225.10,227.88 225.40,225.56 225.70,225.02 226.00,225.57 226.30,226.23 226.60,225.01 226.90,224.98 227.20,225.13 227.50,227.41 227.80,225.85 228.10,226.49 228.40,226.55 228.70,223.72 229.00,226.45 229.30,224.67 229.60,225.57 229.90,223.90 230.20,226.98 230.50,226.34 230.80,225.05 231.10,227.59 231.40,225.25 231.70,227.85 232.00,226.15 232.30,228.97 232.60,224.99 232.90,226.95 233.20,224.99 233.50,224.96 233.80,225.77 234.10,226.21 234.40,225.22 234.70,227.08 235.00,228.45 235.30,227.54 235.60,225.79 235.90,229.01 236.20,224.85 236.50,228.71 236.80,226.60 237.10,225.74 237.40,226.85 237.70,226.86 238.00,228.17 238.30,227.69 238.60,226.59 238.90,228.07 239.20,226.70 239.50,225.88 239.80,225.74 240.10,225.97 240.40,227.44 240.70,226.76 241.00,228.10 241.30,225.68 241.60,227.37 241.90,227.79 242.20,227.54 242.50,227.85 242.80,224.69 243.10,225.93 243.40,226.62" fill="none" stroke="#8a008a" stroke-width="1.60" stroke-linejoin="round"/>
<polyline points="62.20,233.80 63.50,215.00 64.90,206.30 66.30,212.00 68.80,220.50 73.50,223.00 78.30,225.50 83.00,229.30 86.90,230.00 90.80,227.30 95.50,230.80 100.20,230.80 103.40,225.10 111.20,225.50 117.50,227.00 125.40,227.80 133.20,228.00 150.00,227.30 165.70,228.00 187.70,228.00 197.10,227.20 212.80,225.00 228.50,225.60 243.40,227.20" fill="none" stroke="#000000" stroke-width="1.00" stroke-linejoin="round" stroke-dasharray="2.6,1.8"/>
<line x1="175.90" y1="228.00" x2="175.90" y2="209.40" stroke="#8a008a" stroke-width="0.90"/>
<polyline points="62.60,270.30 62.90,270.72 63.20,270.53 63.50,270.60 63.80,264.59 64.10,264.41 64.40,262.98 64.70,262.76 65.00,262.44 65.30,261.20 65.60,264.07 65.90,261.96 66.20,265.47 66.50,263.73 66.80,266.07 67.10,266.78 67.40,266.22 67.70,265.40 68.00,265.04 68.30,264.42 68.60,268.51 68.90,266.95 69.20,268.86 69.50,266.45 69.80,266.32 70.10,264.80 70.40,265.24 70.70,263.29 71.00,267.38 71.30,267.49 71.60,268.37 71.90,268.44 72.20,264.64 72.50,262.42 72.80,267.66 73.10,266.95 73.40,265.12 73.70,265.32 74.00,268.12 74.30,269.78 74.60,267.75 74.90,266.09 75.20,268.59 75.50,269.11 75.80,265.61 76.10,268.78 76.40,266.17 76.70,267.85 77.00,268.69 77.30,268.11 77.60,265.77 77.90,268.85 78.20,266.12 78.50,269.56 78.80,265.56 79.10,267.90 79.40,268.03 79.70,267.79 80.00,269.34 80.30,269.52 80.60,272.10 80.90,270.05 81.20,271.19 81.50,267.84 81.80,271.66 82.10,271.69 82.40,272.82 82.70,273.23 83.00,269.91 83.30,269.58 83.60,270.77 83.90,271.33 84.20,274.88 84.50,269.88 84.80,272.71 85.10,273.87 85.40,271.65 85.70,269.27 86.00,269.76 86.30,271.65 86.60,271.59 86.90,269.79 87.20,270.21 87.50,271.52 87.80,268.39 88.10,271.71 88.40,266.62 88.70,270.85 89.00,265.17 89.30,269.37 89.60,267.36 89.90,265.01 90.20,267.75 90.50,268.54 90.80,268.70 91.10,268.06 91.40,267.71 91.70,267.61 92.00,268.35 92.30,270.23 92.60,269.16 92.90,269.62 93.20,268.92 93.50,270.96 93.80,272.65 94.10,272.46 94.40,267.11 94.70,267.77 95.00,267.59 95.30,268.79 95.60,272.59 95.90,268.99 96.20,269.84 96.50,269.46 96.80,266.87 97.10,268.09 97.40,268.49 97.70,267.92 98.00,268.40 98.30,267.84 98.60,267.88 98.90,265.29 99.20,269.15 99.50,267.97 99.80,265.69 100.10,265.70 100.40,264.73 100.70,262.71 101.00,266.51 101.30,264.37 101.60,266.44 101.90,266.89 102.20,262.32 102.50,262.63 102.80,265.26 103.10,263.53 103.40,263.31 103.70,263.71 104.00,265.04 104.30,262.14 104.60,264.44 104.90,266.06 105.20,263.38 105.50,263.65 105.80,264.94 106.10,265.77 106.40,265.78 106.70,264.95 107.00,266.77 107.30,263.11 107.60,266.77 107.90,265.05 108.20,263.60 108.50,261.77 108.80,266.55 109.10,264.46 109.40,264.92 109.70,266.58 110.00,263.52 110.30,265.55 110.60,265.80 110.90,267.16 111.20,265.15 111.50,267.72 111.80,263.99 112.10,264.88 112.40,264.03 112.70,263.65 113.00,268.05 113.30,265.88 113.60,265.48 113.90,265.96 114.20,266.00 114.50,263.46 114.80,265.26 115.10,266.73 115.40,264.24 115.70,265.99 116.00,265.75 116.30,264.78 116.60,264.22 116.90,265.41 117.20,266.75 117.50,267.28 117.80,263.90 118.10,266.65 118.40,267.36 118.70,263.62 119.00,264.20 119.30,267.29 119.60,267.57 119.90,267.32 120.20,269.00 120.50,267.56 120.80,268.63 121.10,266.40 121.40,266.42 121.70,264.95 122.00,266.58 122.30,265.79 122.60,265.44 122.90,267.41 123.20,267.01 123.50,265.70 123.80,266.75 124.10,266.95 124.40,267.12 124.70,265.31 125.00,267.47 125.30,265.66 125.60,266.96 125.90,265.67 126.20,269.89 126.50,264.32 126.80,268.37 127.10,265.19 127.40,269.49 127.70,264.90 128.00,268.15 128.30,266.78 128.60,268.65 128.90,265.07 129.20,266.73 129.50,268.07 129.80,268.75 130.10,266.45 130.40,264.44 130.70,267.00 131.00,266.51 131.30,267.83 131.60,267.06 131.90,266.15 132.20,267.60 132.50,270.27 132.80,268.98 133.10,267.48 133.40,269.15 133.70,265.94 134.00,267.35 134.30,268.25 134.60,267.83 134.90,267.44 135.20,268.44 135.50,271.37 135.80,268.31 136.10,269.02 136.40,271.08 136.70,264.28 137.00,267.74 137.30,269.67 137.60,265.79 137.90,267.48 138.20,270.30 138.50,268.27 138.80,268.43 139.10,271.48 139.40,264.91 139.70,269.82 140.00,265.86 140.30,268.59 140.60,268.86 140.90,268.09 141.20,267.41 141.50,269.17 141.80,268.48 142.10,269.11 142.40,269.34 142.70,268.68 143.00,270.51 143.30,266.91 143.60,264.51 143.90,264.59 144.20,267.21 144.50,265.44 144.80,267.00 145.10,267.82 145.40,270.21 145.70,265.77 146.00,268.58 146.30,265.70 146.60,269.37 146.90,264.47 147.20,270.55 147.50,267.62 147.80,271.74 148.10,268.54 148.40,266.73 148.70,267.60 149.00,267.25 149.30,268.88 149.60,270.47 149.90,268.92 150.20,268.03 150.50,268.08 150.80,271.39 151.10,267.01 151.40,269.76 151.70,267.13 152.00,267.27 152.30,269.66 152.60,265.98 152.90,271.27 153.20,271.37 153.50,267.01 153.80,266.79 154.10,268.36 154.40,268.11 154.70,267.45 155.00,270.34 155.30,272.58 155.60,268.46 155.90,269.79 156.20,267.97 156.50,268.66 156.80,267.75 157.10,268.50 157.40,268.94 157.70,268.10 158.00,269.03 158.30,267.53 158.60,269.30 158.90,266.05 159.20,269.57 159.50,268.42 159.80,269.53 160.10,268.61 160.40,268.59 160.70,268.85 161.00,268.09 161.30,268.74 161.60,265.44 161.90,267.53 162.20,269.16 162.50,266.61 162.80,272.45 163.10,271.12 163.40,266.34 163.70,271.51 164.00,269.54 164.30,269.78 164.60,271.13 164.90,267.98 165.20,269.44 165.50,270.32 165.80,267.70 166.10,268.50 166.40,268.92 166.70,269.42 167.00,267.25 167.30,268.71 167.60,267.79 167.90,270.19 168.20,267.95 168.50,270.02 168.80,268.87 169.10,267.95 169.40,270.15 169.70,269.72 170.00,268.38 170.30,270.45 170.60,271.11 170.90,266.00 171.20,270.17 171.50,265.72 171.80,268.97 172.10,270.17 172.40,269.75 172.70,269.60 173.00,268.73 173.30,269.91 173.60,267.02 173.90,271.88 174.20,265.60 174.50,268.49 174.80,266.34 175.10,268.37 175.40,267.83 175.70,267.04 176.00,270.59 176.30,267.88 176.60,267.72 176.90,268.78 177.20,270.09 177.50,269.73 177.80,268.14 178.10,269.24 178.40,269.07 178.70,268.72 179.00,267.75 179.30,269.21 179.60,266.41 179.90,270.36 180.20,270.27 180.50,268.46 180.80,268.05 181.10,265.72 181.40,268.42 181.70,270.24 182.00,266.15 182.30,269.90 182.60,267.68 182.90,271.72 183.20,269.58 183.50,270.75 183.80,268.38 184.10,268.34 184.40,267.28 184.70,271.11 185.00,268.15 185.30,268.85 185.60,266.69 185.90,268.86 186.20,266.96 186.50,268.77 186.80,270.53 187.10,267.59 187.40,266.89 187.70,268.96 188.00,268.52 188.30,267.26 188.60,265.82 188.90,268.61 189.20,269.02 189.50,268.74 189.80,270.39 190.10,268.95 190.40,268.91 190.70,266.11 191.00,267.91 191.30,267.91 191.60,267.06 191.90,269.39 192.20,267.52 192.50,269.07 192.80,267.33 193.10,268.84 193.40,269.80 193.70,268.85 194.00,269.58 194.30,268.18 194.60,265.64 194.90,269.39 195.20,267.29 195.50,266.07 195.80,269.97 196.10,267.63 196.40,267.13 196.70,265.30 197.00,269.09 197.30,267.18 197.60,265.74 197.90,268.28 198.20,268.75 198.50,268.31 198.80,268.46 199.10,268.53 199.40,265.08 199.70,265.28 200.00,267.64 200.30,268.80 200.60,270.65 200.90,264.96 201.20,266.51 201.50,265.49 201.80,266.44 202.10,265.31 202.40,266.55 202.70,266.05 203.00,267.55 203.30,266.13 203.60,269.17 203.90,267.58 204.20,266.83 204.50,265.22 204.80,266.59 205.10,264.57 205.40,265.86 205.70,264.79 206.00,266.97 206.30,264.82 206.60,265.51 206.90,266.94 207.20,265.69 207.50,265.24 207.80,263.20 208.10,265.47 208.40,266.93 208.70,265.02 209.00,264.42 209.30,265.98 209.60,268.24 209.90,265.33 210.20,264.48 210.50,263.68 210.80,264.85 211.10,262.42 211.40,263.61 211.70,263.36 212.00,266.93 212.30,262.05 212.60,264.54 212.90,263.49 213.20,262.37 213.50,265.06 213.80,266.02 214.10,263.75 214.40,263.67 214.70,264.25 215.00,265.24 215.30,264.57 215.60,263.59 215.90,263.08 216.20,264.09 216.50,261.91 216.80,263.68 217.10,265.91 217.40,264.37 217.70,263.89 218.00,262.50 218.30,262.50 218.60,265.65 218.90,264.09 219.20,262.64 219.50,262.39 219.80,263.64 220.10,266.97 220.40,264.56 220.70,260.91 221.00,264.02 221.30,265.05 221.60,262.47 221.90,264.52 222.20,266.95 222.50,263.53 222.80,262.05 223.10,264.05 223.40,266.17 223.70,263.32 224.00,265.00 224.30,265.27 224.60,264.89 224.90,265.01 225.20,262.49 225.50,268.86 225.80,265.13 226.10,267.58 226.40,265.20 226.70,264.05 227.00,262.90 227.30,263.58 227.60,265.27 227.90,264.19 228.20,267.80 228.50,265.52 228.80,265.78 229.10,268.35 229.40,266.30 229.70,262.66 230.00,267.07 230.30,263.41 230.60,263.77 230.90,267.33 231.20,266.01 231.50,262.99 231.80,266.74 232.10,270.00 232.40,262.90 232.70,264.34 233.00,263.26 233.30,265.59 233.60,264.90 233.90,265.15 234.20,263.14 234.50,266.11 234.80,265.34 235.10,269.33 235.40,265.69 235.70,263.38 236.00,263.70 236.30,265.64 236.60,265.03 236.90,264.91 237.20,268.02 237.50,266.13 237.80,265.43 238.10,264.37 238.40,264.63 238.70,267.28 239.00,267.90 239.30,267.53 239.60,266.96 239.90,266.57 240.20,269.52 240.50,268.06 240.80,268.06 241.10,265.17 241.40,267.28 241.70,265.96 242.00,265.47 242.30,264.94 242.60,267.93" fill="none" stroke="#15159a" stroke-width="1.05" stroke-linejoin="round"/>
<polyline points="62.60,271.10 63.50,255.00 64.90,242.80 66.50,246.00 69.60,259.30 75.10,261.70 81.40,264.80 89.20,265.60 101.80,264.00 112.80,263.30 123.80,263.30 133.20,265.60 150.00,266.40 170.00,266.00 192.40,263.30 203.40,263.30 220.60,262.50 237.90,264.00" fill="none" stroke="#000000" stroke-width="1.00" stroke-linejoin="round" stroke-dasharray="2.6,1.8"/>
<polyline points="62.20,312.74 62.50,311.90 62.80,309.99 63.10,308.73 63.40,305.84 63.70,304.99 64.00,302.95 64.30,300.13 64.60,300.02 64.90,296.74 65.20,296.80 65.50,298.41 65.80,298.98 66.10,300.11 66.40,302.19 66.70,302.23 67.00,304.68 67.30,303.84 67.60,305.13 67.90,305.15 68.20,304.11 68.50,306.29 68.80,307.09 69.10,308.12 69.40,306.71 69.70,308.94 70.00,308.81 70.30,306.70 70.60,307.47 70.90,307.97 71.20,304.99 71.50,306.68 71.80,304.09 72.10,305.99 72.40,307.36 72.70,305.95 73.00,306.96 73.30,305.17 73.60,306.27 73.90,306.62 74.20,307.99 74.50,307.22 74.80,308.36 75.10,307.80 75.40,307.45 75.70,308.39 76.00,308.70 76.30,308.43 76.60,309.56 76.90,308.33 77.20,309.37 77.50,309.87 77.80,308.96 78.10,309.61 78.40,309.73 78.70,308.62 79.00,311.42 79.30,309.91 79.60,310.83 79.90,308.37 80.20,311.56 80.50,310.18 80.80,309.86 81.10,310.72 81.40,311.81 81.70,309.38 82.00,311.76 82.30,309.65 82.60,311.77 82.90,311.05 83.20,311.78 83.50,311.39 83.80,309.90 84.10,310.26 84.40,311.08 84.70,310.24 85.00,310.50 85.30,309.55 85.60,311.08 85.90,312.53 86.20,311.33 86.50,310.75 86.80,309.36 87.10,310.14 87.40,311.34 87.70,310.19 88.00,310.66 88.30,309.57 88.60,309.42 88.90,309.77 89.20,309.04 89.50,308.78 89.80,309.37 90.10,308.76 90.40,307.02 90.70,309.30 91.00,310.10 91.30,309.21 91.60,308.76 91.90,308.37 92.20,308.84 92.50,309.59 92.80,310.75 93.10,310.15 93.40,310.17 93.70,309.57 94.00,310.79 94.30,310.20 94.60,312.68 94.90,311.65 95.20,311.45 95.50,313.27 95.80,313.09 96.10,311.42 96.40,310.05 96.70,312.06 97.00,310.44 97.30,311.25 97.60,309.55 97.90,309.91 98.20,309.83 98.50,309.11 98.80,308.75 99.10,310.39 99.40,308.99 99.70,310.28 100.00,309.54 100.30,308.94 100.60,309.12 100.90,308.14 101.20,308.15 101.50,308.32 101.80,308.07 102.10,305.53 102.40,305.09 102.70,304.08 103.00,306.87 103.30,306.84 103.60,309.98 103.90,308.04 104.20,308.83 104.50,308.40 104.80,306.63 105.10,307.70 105.40,308.94 105.70,309.16 106.00,307.80 106.30,309.29 106.60,308.96 106.90,307.53 107.20,309.19 107.50,308.01 107.80,306.81 108.10,308.51 108.40,308.08 108.70,307.63 109.00,306.95 109.30,307.53 109.60,308.99 109.90,307.52 110.20,307.01 110.50,307.15 110.80,308.93 111.10,309.44 111.40,307.13 111.70,307.59 112.00,308.72 112.30,309.00 112.60,307.76 112.90,308.53 113.20,309.70 113.50,307.72 113.80,308.00 114.10,308.40 114.40,308.74 114.70,308.33 115.00,307.36 115.30,308.37 115.60,309.15 115.90,307.53 116.20,307.71 116.50,307.92 116.80,309.99 117.10,308.34 117.40,307.68 117.70,309.71 118.00,309.48 118.30,308.33 118.60,308.91 118.90,308.83 119.20,309.23 119.50,308.61 119.80,308.92 120.10,308.27 120.40,308.86 120.70,309.27 121.00,308.96 121.30,308.51 121.60,307.41 121.90,309.12 122.20,308.76 122.50,308.87 122.80,310.40 123.10,309.07 123.40,308.82 123.70,309.26 124.00,307.57 124.30,308.74 124.60,308.84 124.90,309.40 125.20,309.36 125.50,309.85 125.80,309.09 126.10,308.72 126.40,309.14 126.70,307.86 127.00,308.35 127.30,308.82 127.60,310.04 127.90,309.31 128.20,308.11 128.50,309.79 128.80,309.61 129.10,309.36 129.40,310.11 129.70,309.31 130.00,310.14 130.30,309.59 130.60,308.58 130.90,309.54 131.20,309.93 131.50,310.96 131.80,308.93 132.10,309.36 132.40,308.13 132.70,308.70 133.00,307.67 133.30,309.49 133.60,310.02 133.90,308.37 134.20,310.21 134.50,309.55 134.80,308.95 135.10,309.41 135.40,308.27 135.70,309.47 136.00,309.51 136.30,308.15 136.60,309.47 136.90,308.79 137.20,308.73 137.50,308.83 137.80,309.44 138.10,309.00 138.40,309.96 138.70,310.51 139.00,309.27 139.30,308.78 139.60,309.49 139.90,307.94 140.20,308.76 140.50,308.58 140.80,309.81 141.10,309.46 141.40,309.42 141.70,307.38 142.00,309.32 142.30,309.38 142.60,308.07 142.90,310.70 143.20,309.54 143.50,310.96 143.80,309.44 144.10,307.60 144.40,310.28 144.70,309.00 145.00,309.33 145.30,309.85 145.60,308.08 145.90,309.72 146.20,308.21 146.50,310.01 146.80,309.52 147.10,309.05 147.40,309.02 147.70,309.40 148.00,308.90 148.30,307.25 148.60,309.63 148.90,309.37 149.20,309.44 149.50,308.86 149.80,309.57 150.10,309.78 150.40,309.62 150.70,307.53 151.00,308.74 151.30,309.69 151.60,309.04 151.90,310.09 152.20,309.12 152.50,310.31 152.80,307.98 153.10,309.19 153.40,310.28 153.70,307.73 154.00,308.91 154.30,310.35 154.60,309.08 154.90,309.23 155.20,309.44 155.50,308.73 155.80,308.92 156.10,310.44 156.40,309.68 156.70,308.59 157.00,309.08 157.30,308.48 157.60,310.29 157.90,309.42 158.20,309.58 158.50,309.83 158.80,308.40 159.10,310.01 159.40,309.51 159.70,309.97 160.00,308.86 160.30,309.18 160.60,308.36 160.90,309.05 161.20,308.92 161.50,311.14 161.80,309.77 162.10,309.53 162.40,309.94 162.70,309.76 163.00,308.95 163.30,309.69 163.60,309.40 163.90,307.69 164.20,309.09 164.50,309.91 164.80,310.07 165.10,311.49 165.40,310.43 165.70,308.29 166.00,310.70 166.30,309.84 166.60,309.85 166.90,309.15 167.20,310.68 167.50,310.87 167.80,309.25 168.10,310.68 168.40,309.43 168.70,309.75 169.00,311.32 169.30,310.21 169.60,310.15 169.90,308.71 170.20,309.75 170.50,310.75 170.80,309.59 171.10,309.60 171.40,310.14 171.70,309.22 172.00,308.66 172.30,309.94 172.60,310.65 172.90,310.63 173.20,308.73 173.50,310.07 173.80,311.70 174.10,309.44 174.40,310.45 174.70,310.86 175.00,310.18 175.30,310.72 175.60,310.32 175.90,310.51 176.20,310.46 176.50,309.15 176.80,311.12 177.10,309.79 177.40,310.06 177.70,308.08 178.00,309.36 178.30,309.71 178.60,309.14 178.90,310.31 179.20,310.34 179.50,310.64 179.80,309.86 180.10,309.02 180.40,310.07 180.70,309.73 181.00,309.30 181.30,310.02 181.60,307.60 181.90,310.01 182.20,309.63 182.50,310.26 182.80,309.11 183.10,309.18 183.40,311.00 183.70,307.76 184.00,310.19 184.30,309.43 184.60,309.39 184.90,309.17 185.20,307.92 185.50,308.76 185.80,309.73 186.10,309.06 186.40,310.15 186.70,308.68 187.00,309.09 187.30,308.53 187.60,309.95 187.90,309.33 188.20,309.63 188.50,308.93 188.80,310.97 189.10,308.70 189.40,308.05 189.70,309.05 190.00,309.04 190.30,308.78 190.60,308.38 190.90,308.56 191.20,308.73 191.50,307.81 191.80,308.12 192.10,308.16 192.40,309.71 192.70,307.57 193.00,309.63 193.30,308.75 193.60,308.95 193.90,310.35 194.20,309.72 194.50,307.75 194.80,307.63 195.10,306.94 195.40,308.42 195.70,309.05 196.00,309.34 196.30,307.72 196.60,307.91 196.90,309.78 197.20,308.19 197.50,308.13 197.80,309.42 198.10,307.68 198.40,308.12 198.70,307.80 199.00,308.43 199.30,308.11 199.60,308.07 199.90,307.81 200.20,307.84 200.50,308.67 200.80,307.41 201.10,308.28 201.40,308.69 201.70,308.43 202.00,308.59 202.30,308.16 202.60,307.73 202.90,308.11 203.20,308.84 203.50,308.43 203.80,308.54 204.10,308.10 204.40,306.37 204.70,306.42 205.00,306.53 205.30,306.68 205.60,307.82 205.90,307.23 206.20,308.88 206.50,307.94 206.80,307.33 207.10,308.32 207.40,307.19 207.70,307.79 208.00,306.64 208.30,307.88 208.60,307.55 208.90,306.76 209.20,308.12 209.50,307.87 209.80,307.73 210.10,306.54 210.40,306.72 210.70,308.71 211.00,307.19 211.30,306.89 211.60,307.85 211.90,307.70 212.20,306.23 212.50,307.50 212.80,306.60 213.10,307.12 213.40,307.03 213.70,305.19 214.00,306.30 214.30,306.37 214.60,306.57 214.90,306.13 215.20,307.56 215.50,307.39 215.80,305.17 216.10,305.88 216.40,306.26 216.70,306.81 217.00,306.33 217.30,306.43 217.60,306.19 217.90,308.49 218.20,305.94 218.50,306.98 218.80,306.75 219.10,306.34 219.40,306.62 219.70,305.25 220.00,306.96 220.30,306.45 220.60,305.98 220.90,307.02 221.20,307.32 221.50,306.94 221.80,307.16 222.10,307.26 222.40,306.71 222.70,305.94 223.00,306.06 223.30,308.21 223.60,308.08 223.90,306.05 224.20,307.65 224.50,308.22 224.80,307.70 225.10,307.81 225.40,308.71 225.70,307.66 226.00,307.29 226.30,306.99 226.60,307.90 226.90,308.12 227.20,307.81 227.50,308.90 227.80,308.73 228.10,308.44 228.40,308.51 228.70,308.12 229.00,307.64 229.30,307.85 229.60,308.06 229.90,307.31 230.20,306.36 230.50,310.01 230.80,308.54 231.10,307.56 231.40,309.21 231.70,307.29 232.00,309.27 232.30,308.35 232.60,308.72 232.90,309.35 233.20,307.97 233.50,307.76 233.80,309.25 234.10,309.05 234.40,308.76 234.70,308.60 235.00,308.29 235.30,307.98 235.60,309.99 235.90,307.64 236.20,308.59 236.50,308.18 236.80,308.73 237.10,309.54 237.40,307.80 237.70,308.27 238.00,309.13 238.30,308.65 238.60,309.39 238.90,308.30 239.20,306.89 239.50,308.55 239.80,308.79 240.10,309.53 240.40,308.37 240.70,308.23 241.00,307.55 241.30,309.40 241.60,309.16 241.90,307.53 242.20,308.82 242.50,308.67" fill="none" stroke="#0e9c9c" stroke-width="1.05" stroke-linejoin="round"/>
<polyline points="62.20,312.70 63.80,287.60 65.70,293.80 68.00,303.30 73.50,306.40 81.40,309.50 89.20,308.80 95.50,311.10 101.80,308.00 112.80,308.00 128.50,308.80 150.00,309.50 190.00,309.00 210.00,307.50 225.00,307.00 240.00,308.50" fill="none" stroke="#000000" stroke-width="1.00" stroke-linejoin="round" stroke-dasharray="2.6,1.8"/>
<polyline points="62.20,351.94 62.45,349.00 62.70,345.45 62.95,341.04 63.20,337.41 63.45,334.91 63.70,329.79 63.95,326.68 64.20,323.91 64.45,324.53 64.70,324.52 64.95,324.71 65.20,324.57 65.45,323.16 65.70,323.24 65.95,324.55 66.20,325.50 66.45,328.04 66.70,328.86 66.95,329.07 67.20,330.59 67.45,337.24 67.70,332.42 67.95,340.12 68.20,335.94 68.45,337.68 68.70,340.38 68.95,341.19 69.20,341.99 69.45,341.43 69.70,342.29 69.95,343.82 70.20,345.14 70.45,344.57 70.70,345.67 70.95,344.33 71.20,347.67 71.45,340.36 71.70,343.77 71.95,344.88 72.20,344.28 72.45,345.18 72.70,345.24 72.95,347.05 73.20,344.65 73.45,344.77 73.70,343.45 73.95,345.34 74.20,344.60 74.45,345.89 74.70,344.88 74.95,346.01 75.20,344.75 75.45,343.65 75.70,344.77 75.95,344.85 76.20,347.64 76.45,345.87 76.70,346.86 76.95,348.02 77.20,347.47 77.45,346.30 77.70,347.24 77.95,343.29 78.20,348.24 78.45,345.87 78.70,344.35 78.95,348.56 79.20,346.97 79.45,345.00 79.70,348.89 79.95,350.04 80.20,348.10 80.45,347.14 80.70,349.26 80.95,351.53 81.20,347.20 81.45,348.13 81.70,347.67 81.95,349.08 82.20,349.07 82.45,349.89 82.70,348.48 82.95,349.82 83.20,352.56 83.45,347.04 83.70,348.95 83.95,349.24 84.20,348.94 84.45,349.23 84.70,349.27 84.95,350.54 85.20,349.38 85.45,350.10 85.70,349.96 85.95,351.40 86.20,346.61 86.45,350.79 86.70,347.34 86.95,348.27 87.20,349.08 87.45,347.23 87.70,349.48 87.95,348.99 88.20,349.84 88.45,349.79 88.70,346.17 88.95,351.06 89.20,347.99 89.45,348.33 89.70,345.93 89.95,345.41 90.20,348.29 90.45,347.17 90.70,343.69 90.95,347.60 91.20,347.46 91.45,343.96 91.70,343.78 91.95,346.90 92.20,346.74 92.45,348.58 92.70,350.55 92.95,351.24 93.20,347.91 93.45,347.71 93.70,352.04 93.95,349.78 94.20,349.47 94.45,352.96 94.70,351.86 94.95,350.81 95.20,353.11 95.45,351.27 95.70,353.31 95.95,353.07 96.20,352.14 96.45,349.91 96.70,351.37 96.95,354.37 97.20,353.52 97.45,352.99 97.70,350.10 97.95,353.17 98.20,350.14 98.45,351.34 98.70,352.18 98.95,354.16 99.20,350.01 99.45,351.58 99.70,348.90 99.95,349.64 100.20,352.60 100.45,351.48 100.70,351.57 100.95,351.67 101.20,351.78 101.45,349.18 101.70,345.98 101.95,346.51 102.20,345.40 102.45,345.81 102.70,344.62 102.95,345.29 103.20,343.11 103.45,345.71 103.70,343.03 103.95,343.30 104.20,342.21 104.45,342.53 104.70,344.52 104.95,344.46 105.20,343.71 105.45,344.78 105.70,345.77 105.95,343.05 106.20,343.02 106.45,345.95 106.70,344.17 106.95,345.28 107.20,345.92 107.45,345.26 107.70,346.94 107.95,346.03 108.20,346.80 108.45,347.13 108.70,344.83 108.95,345.06 109.20,347.61 109.45,346.04 109.70,350.40 109.95,344.81 110.20,343.76 110.45,345.73 110.70,349.97 110.95,348.42 111.20,345.42 111.45,347.36 111.70,348.34 111.95,346.20 112.20,347.35 112.45,347.30 112.70,347.47 112.95,346.26 113.20,346.84 113.45,346.84 113.70,349.08 113.95,343.60 114.20,345.62 114.45,349.71 114.70,348.61 114.95,347.04 115.20,343.80 115.45,348.78 115.70,349.89 115.95,347.38 116.20,347.69 116.45,347.90 116.70,349.87 116.95,344.61 117.20,346.93 117.45,347.54 117.70,349.59 117.95,349.62 118.20,347.26 118.45,345.97 118.70,348.23 118.95,347.64 119.20,348.74 119.45,348.03 119.70,347.81 119.95,348.47 120.20,348.06 120.45,349.09 120.70,348.75 120.95,346.19 121.20,348.59 121.45,349.81 121.70,350.67 121.95,351.93 122.20,348.99 122.45,348.64 122.70,344.95 122.95,346.51 123.20,347.52 123.45,347.28 123.70,345.97 123.95,346.34 124.20,350.08 124.45,347.07 124.70,348.00 124.95,351.00 125.20,346.94 125.45,344.80 125.70,348.92 125.95,350.91 126.20,346.88 126.45,348.14 126.70,347.98 126.95,348.73 127.20,348.71 127.45,347.46 127.70,347.18 127.95,347.09 128.20,348.00 128.45,349.49 128.70,348.34 128.95,347.53 129.20,346.93 129.45,348.94 129.70,345.82 129.95,348.26 130.20,349.57 130.45,346.37 130.70,350.07 130.95,345.45 131.20,348.24 131.45,347.78 131.70,349.91 131.95,348.89 132.20,348.64 132.45,349.58 132.70,346.22 132.95,347.80 133.20,348.46 133.45,345.45 133.70,348.61 133.95,350.25 134.20,346.50 134.45,348.52 134.70,347.85 134.95,345.74 135.20,347.83 135.45,346.74 135.70,350.10 135.95,349.34 136.20,348.25 136.45,349.67 136.70,348.82 136.95,348.69 137.20,344.50 137.45,349.74 137.70,347.42 137.95,347.55 138.20,349.37 138.45,348.05 138.70,348.10 138.95,347.84 139.20,351.79 139.45,347.46 139.70,349.23 139.95,347.09 140.20,346.64 140.45,349.00 140.70,350.32 140.95,347.48 141.20,348.52 141.45,351.97 141.70,346.21 141.95,349.72 142.20,351.09 142.45,347.55 142.70,350.62 142.95,350.62 143.20,344.55 143.45,350.20 143.70,347.85 143.95,349.27 144.20,352.58 144.45,352.29 144.70,348.36 144.95,348.73 145.20,344.62 145.45,348.60 145.70,349.53 145.95,352.21 146.20,349.74 146.45,348.65 146.70,348.91 146.95,349.55 147.20,348.74 147.45,348.74 147.70,349.29 147.95,351.54 148.20,347.22 148.45,349.41 148.70,348.13 148.95,348.15 149.20,348.98 149.45,347.58 149.70,347.67 149.95,348.67 150.20,348.76 150.45,349.72 150.70,347.49 150.95,349.90 151.20,351.30 151.45,350.59 151.70,347.65 151.95,350.93 152.20,349.04 152.45,349.31 152.70,350.05 152.95,348.72 153.20,352.56 153.45,349.17 153.70,348.75 153.95,349.00 154.20,348.00 154.45,347.81 154.70,351.83 154.95,348.36 155.20,347.64 155.45,346.85 155.70,347.44 155.95,352.21 156.20,350.08 156.45,348.50 156.70,349.55 156.95,349.19 157.20,346.82 157.45,348.66 157.70,350.23 157.95,345.76 158.20,347.76 158.45,350.21 158.70,346.27 158.95,351.15 159.20,349.24 159.45,349.91 159.70,350.29 159.95,352.52 160.20,351.60 160.45,353.11 160.70,349.13 160.95,350.67 161.20,350.95 161.45,353.05 161.70,349.98 161.95,349.60 162.20,348.51 162.45,347.45 162.70,347.81 162.95,350.30 163.20,349.91 163.45,348.64 163.70,348.18 163.95,348.84 164.20,347.64 164.45,349.26 164.70,348.06 164.95,349.97 165.20,350.32 165.45,349.34 165.70,349.10 165.95,347.70 166.20,349.82 166.45,349.82 166.70,349.12 166.95,348.29 167.20,351.13 167.45,348.62 167.70,350.62 167.95,349.88 168.20,345.94 168.45,346.08 168.70,350.37 168.95,348.79 169.20,347.77 169.45,348.03 169.70,350.12 169.95,348.72 170.20,347.31 170.45,349.19 170.70,347.62 170.95,349.59 171.20,350.41 171.45,349.56 171.70,350.76 171.95,349.06 172.20,349.70 172.45,349.41 172.70,352.62 172.95,349.58 173.20,348.61 173.45,352.51 173.70,351.68 173.95,349.49 174.20,350.11 174.45,348.36 174.70,351.04 174.95,347.41 175.20,350.20 175.45,348.08 175.70,350.00 175.95,350.85 176.20,348.87 176.45,350.44 176.70,350.14 176.95,348.73 177.20,348.13 177.45,348.00 177.70,347.47 177.95,349.65 178.20,345.41 178.45,349.41 178.70,347.93 178.95,346.70 179.20,349.26 179.45,351.15 179.70,348.78 179.95,346.80 180.20,349.36 180.45,348.80 180.70,351.56 180.95,350.85 181.20,348.27 181.45,349.85 181.70,348.24 181.95,349.49 182.20,348.98 182.45,347.45 182.70,349.93 182.95,347.49 183.20,349.50 183.45,349.04 183.70,349.51 183.95,348.47 184.20,347.85 184.45,349.08 184.70,346.21 184.95,350.90 185.20,349.21 185.45,350.57 185.70,348.22 185.95,348.80 186.20,347.57 186.45,348.76 186.70,352.37 186.95,348.44 187.20,345.20 187.45,348.45 187.70,349.14 187.95,349.02 188.20,345.98 188.45,350.69 188.70,352.62 188.95,346.18 189.20,349.40 189.45,347.24 189.70,349.02 189.95,345.97 190.20,345.63 190.45,348.66 190.70,348.39 190.95,347.40 191.20,349.44 191.45,348.71 191.70,348.66 191.95,346.60 192.20,347.08 192.45,350.50 192.70,348.53 192.95,349.09 193.20,350.31 193.45,350.41 193.70,347.87 193.95,349.34 194.20,346.75 194.45,347.31 194.70,349.88 194.95,345.80 195.20,348.25 195.45,348.01 195.70,347.99 195.95,346.40 196.20,345.01 196.45,349.31 196.70,346.57 196.95,349.01 197.20,344.80 197.45,348.17 197.70,346.93 197.95,344.00 198.20,347.25 198.45,348.98 198.70,348.43 198.95,350.56 199.20,346.21 199.45,348.53 199.70,346.58 199.95,348.51 200.20,346.23 200.45,346.86 200.70,348.82 200.95,346.43 201.20,346.30 201.45,347.04 201.70,345.36 201.95,343.21 202.20,345.90 202.45,348.03 202.70,348.51 202.95,344.01 203.20,343.43 203.45,346.28 203.70,343.53 203.95,344.07 204.20,346.66 204.45,345.18 204.70,342.53 204.95,347.99 205.20,345.27 205.45,346.72 205.70,346.00 205.95,344.07 206.20,344.73 206.45,344.87 206.70,347.30 206.95,344.91 207.20,345.87 207.45,345.42 207.70,346.62 207.95,346.08 208.20,344.28 208.45,342.80 208.70,344.86 208.95,341.58 209.20,342.77 209.45,344.54 209.70,343.08 209.95,342.56 210.20,346.10 210.45,342.89 210.70,342.48 210.95,345.64 211.20,344.98 211.45,342.21 211.70,343.43 211.95,345.91 212.20,343.08 212.45,343.84 212.70,344.41 212.95,343.65 213.20,344.90 213.45,343.27 213.70,342.88 213.95,347.41 214.20,342.33 214.45,345.23 214.70,346.12 214.95,345.01 215.20,342.71 215.45,343.68 215.70,344.30 215.95,345.06 216.20,345.48 216.45,345.04 216.70,344.81 216.95,343.24 217.20,347.10 217.45,343.46 217.70,342.73 217.95,345.23 218.20,344.63 218.45,341.98 218.70,346.71 218.95,346.09 219.20,347.46 219.45,346.88 219.70,342.51 219.95,345.94 220.20,348.01 220.45,347.44 220.70,346.06 220.95,346.09 221.20,345.53 221.45,347.14 221.70,348.46 221.95,347.44 222.20,348.18 222.45,345.52 222.70,344.41 222.95,346.09 223.20,345.77 223.45,347.93 223.70,343.62 223.95,345.92 224.20,345.25 224.45,347.53 224.70,347.74 224.95,344.34 225.20,348.13 225.45,347.46 225.70,345.99 225.95,347.73 226.20,345.60 226.45,346.52 226.70,345.89 226.95,346.70 227.20,346.79 227.45,348.03 227.70,346.49 227.95,346.12 228.20,347.75 228.45,346.20 228.70,347.74 228.95,347.67 229.20,348.28 229.45,345.48 229.70,346.62 229.95,347.57 230.20,346.92 230.45,346.29 230.70,349.15 230.95,345.68 231.20,346.14 231.45,346.46 231.70,348.22 231.95,345.60 232.20,346.49 232.45,349.47 232.70,346.42 232.95,344.41 233.20,346.16 233.45,345.37 233.70,348.67 233.95,350.41 234.20,346.36 234.45,347.11 234.70,348.27 234.95,346.96 235.20,343.91 235.45,345.85 235.70,349.29 235.95,347.14 236.20,350.75 236.45,345.98 236.70,346.99 236.95,348.18 237.20,350.62 237.45,349.61 237.70,349.55 237.95,347.78 238.20,346.99 238.45,348.30 238.70,347.63 238.95,348.28 239.20,347.40 239.45,350.02 239.70,348.12 239.95,349.51 240.20,349.29 240.45,349.95 240.70,345.14 240.95,347.13 241.20,347.54 241.45,348.63 241.70,348.67 241.95,347.68 242.20,345.49 242.45,347.03 242.70,347.71 242.95,347.82 243.20,351.27" fill="none" stroke="#ff0000" stroke-width="1.20" stroke-linejoin="round"/>
<polyline points="62.20,352.70 63.50,335.00 64.90,326.00 66.30,328.00 67.80,336.00 69.50,342.00 75.10,345.30 81.40,348.50 86.10,350.00 90.80,346.50 95.50,351.50 100.20,350.80 103.40,344.50 109.70,346.40 116.00,347.80 128.50,348.00 150.00,348.60 173.50,349.30 189.20,348.60 200.20,346.40 212.80,344.20 220.60,345.60 228.50,347.00 243.40,347.80" fill="none" stroke="#000000" stroke-width="1.00" stroke-linejoin="round" stroke-dasharray="2.6,1.8"/>
<line x1="69.60" y1="340.00" x2="69.60" y2="322.00" stroke="#ff0000" stroke-width="0.90"/>
<line x1="175.90" y1="348.00" x2="175.90" y2="330.70" stroke="#ff0000" stroke-width="0.90"/>
<line x1="53.10" y1="201.10" x2="266.90" y2="201.10" stroke="#2a2a2a" stroke-width="1.40"/>
<line x1="53.50" y1="234.00" x2="267.40" y2="234.00" stroke="#2a2a2a" stroke-width="1.40"/>
<line x1="53.90" y1="271.40" x2="267.00" y2="271.40" stroke="#2a2a2a" stroke-width="1.40"/>
<line x1="53.50" y1="314.00" x2="267.80" y2="314.00" stroke="#2a2a2a" stroke-width="1.40"/>
<line x1="54.10" y1="354.30" x2="267.70" y2="354.30" stroke="#2a2a2a" stroke-width="1.40"/>
<line x1="58.50" y1="358.90" x2="255.20" y2="358.90" stroke="#444444" stroke-width="1.00"/>
<line x1="58.50" y1="358.90" x2="255.20" y2="358.90" stroke="#ff2020" stroke-width="1.00" stroke-dasharray="0.9,6.3"/>
<line x1="62.40" y1="358.90" x2="62.40" y2="361.60" stroke="#444444" stroke-width="1.00"/>
<line x1="83.80" y1="358.90" x2="83.80" y2="360.60" stroke="#444444" stroke-width="1.00"/>
<line x1="105.20" y1="358.90" x2="105.20" y2="361.60" stroke="#444444" stroke-width="1.00"/>
<line x1="126.60" y1="358.90" x2="126.60" y2="360.60" stroke="#444444" stroke-width="1.00"/>
<line x1="148.00" y1="358.90" x2="148.00" y2="361.60" stroke="#444444" stroke-width="1.00"/>
<line x1="169.40" y1="358.90" x2="169.40" y2="360.60" stroke="#444444" stroke-width="1.00"/>
<line x1="190.80" y1="358.90" x2="190.80" y2="361.60" stroke="#444444" stroke-width="1.00"/>
<line x1="212.20" y1="358.90" x2="212.20" y2="360.60" stroke="#444444" stroke-width="1.00"/>
<line x1="233.60" y1="358.90" x2="233.60" y2="361.60" stroke="#444444" stroke-width="1.00"/>
<line x1="255.00" y1="358.90" x2="255.00" y2="360.60" stroke="#444444" stroke-width="1.00"/>
<text x="62.40" y="371.10" font-size="7.30" fill="#111" text-anchor="middle"  stroke="#111" stroke-width="0.25">0</text>
<text x="105.20" y="371.10" font-size="7.30" fill="#111" text-anchor="middle"  stroke="#111" stroke-width="0.25">1000</text>
<text x="148.00" y="371.10" font-size="7.30" fill="#111" text-anchor="middle"  stroke="#111" stroke-width="0.25">2000</text>
<text x="190.80" y="371.10" font-size="7.30" fill="#111" text-anchor="middle"  stroke="#111" stroke-width="0.25">3000</text>
<text x="233.60" y="371.10" font-size="7.30" fill="#111" text-anchor="middle"  stroke="#111" stroke-width="0.25">4000</text>
<text x="140.60" y="385.90" font-size="13.00" fill="#000" text-anchor="start" textLength="41.7" lengthAdjust="spacingAndGlyphs" stroke="#000" stroke-width="0.25">time / s</text>
<text x="227.60" y="117.40" font-size="12.00" fill="#000" stroke="#000" stroke-width="0.25">j<tspan font-size="8.30" dy="3.20">e</tspan></text>
<text x="251.60" y="144.80" font-size="12.00" fill="#2a8a2a" stroke="#2a8a2a" stroke-width="0.25">j<tspan font-size="8.30" dy="3.20">Σ</tspan></text>
<text x="242.70" y="180.80" font-size="12.00" fill="#f58a24" stroke="#f58a24" stroke-width="0.25">j<tspan font-size="8.30" dy="3.20">Co</tspan></text>
<line x1="256.47" y1="173.10" x2="257.37" y2="170.80" stroke="#f58a24" stroke-width="1.1" stroke-linecap="round"/>
<text x="246.70" y="223.40" font-size="12.00" fill="#7b3aa8" stroke="#7b3aa8" stroke-width="0.25">j<tspan font-size="8.30" dy="3.20">Mn</tspan></text>
<line x1="261.39" y1="215.70" x2="262.29" y2="213.40" stroke="#7b3aa8" stroke-width="1.1" stroke-linecap="round"/>
<text x="248.30" y="263.90" font-size="12.00" fill="#27279a" stroke="#27279a" stroke-width="0.25">j<tspan font-size="8.30" dy="3.20">Cr</tspan></text>
<line x1="260.22" y1="256.20" x2="261.12" y2="253.90" stroke="#27279a" stroke-width="1.1" stroke-linecap="round"/>
<text x="249.80" y="309.20" font-size="12.00" fill="#2a9595" stroke="#2a9595" stroke-width="0.25">j<tspan font-size="8.30" dy="3.20">Fe</tspan></text>
<line x1="262.65" y1="301.50" x2="263.55" y2="299.20" stroke="#2a9595" stroke-width="1.1" stroke-linecap="round"/>
<text x="250.40" y="346.00" font-size="12.00" fill="#f01818" stroke="#f01818" stroke-width="0.25">j<tspan font-size="8.30" dy="3.20">Ni</tspan></text>
<text transform="translate(18.7,354.6) rotate(-90)" font-size="11.6" fill="#000" textLength="51" lengthAdjust="spacingAndGlyphs" stroke="#000" stroke-width="0.25">5 µA cm<tspan font-size="7.5" dy="-3.5">-2</tspan></text>
<line x1="29.30" y1="307.00" x2="29.30" y2="350.50" stroke="#000" stroke-width="0.90"/>
<polygon points="29.30,303.20 27.30,308.00 31.30,308.00" fill="#000"/>
<polygon points="29.30,354.40 27.30,349.60 31.30,349.60" fill="#000"/>
<text x="333.90" y="14.90" font-size="12.20" fill="#000" text-anchor="start"  stroke="#000" stroke-width="0.25">(b)</text>
<text x="463.1" y="22.1" font-size="10.8" fill="#000" textLength="80.5" lengthAdjust="spacingAndGlyphs" stroke="#000" stroke-width="0.25">E<tspan font-size="7.5" dy="2.6">ap</tspan><tspan dy="-2.6"> = 0.1 V vs. SCE</tspan></text>
<line x1="411.00" y1="25.80" x2="585.00" y2="25.80" stroke="#a2a2a2" stroke-width="1.40"/>
<polygon points="407.20,25.80 411.80,23.80 411.80,27.80" fill="#000"/>
<polygon points="588.90,25.80 584.30,23.80 584.30,27.80" fill="#000"/>
<line x1="390.90" y1="19.40" x2="390.90" y2="139.20" stroke="#555555" stroke-width="1.00"/>
<line x1="388.00" y1="138.90" x2="390.90" y2="138.90" stroke="#555555" stroke-width="1.00"/>
<line x1="389.20" y1="126.97" x2="390.90" y2="126.97" stroke="#555555" stroke-width="0.90"/>
<line x1="388.00" y1="115.04" x2="390.90" y2="115.04" stroke="#555555" stroke-width="1.00"/>
<line x1="389.20" y1="103.11" x2="390.90" y2="103.11" stroke="#555555" stroke-width="0.90"/>
<line x1="388.00" y1="91.18" x2="390.90" y2="91.18" stroke="#555555" stroke-width="1.00"/>
<line x1="389.20" y1="79.25" x2="390.90" y2="79.25" stroke="#555555" stroke-width="0.90"/>
<line x1="388.00" y1="67.32" x2="390.90" y2="67.32" stroke="#555555" stroke-width="1.00"/>
<line x1="389.20" y1="55.39" x2="390.90" y2="55.39" stroke="#555555" stroke-width="0.90"/>
<line x1="388.00" y1="43.46" x2="390.90" y2="43.46" stroke="#555555" stroke-width="1.00"/>
<line x1="389.20" y1="31.53" x2="390.90" y2="31.53" stroke="#555555" stroke-width="0.90"/>
<line x1="388.00" y1="19.60" x2="390.90" y2="19.60" stroke="#555555" stroke-width="1.00"/>
<text x="384.20" y="25.25" font-size="10.90" fill="#000" text-anchor="end"  stroke="#000" stroke-width="0.25">50</text>
<text x="384.20" y="48.05" font-size="10.90" fill="#000" text-anchor="end"  stroke="#000" stroke-width="0.25">40</text>
<text x="384.20" y="70.65" font-size="10.90" fill="#000" text-anchor="end"  stroke="#000" stroke-width="0.25">30</text>
<text x="384.20" y="93.25" font-size="10.90" fill="#000" text-anchor="end"  stroke="#000" stroke-width="0.25">20</text>
<text x="384.20" y="118.15" font-size="10.90" fill="#000" text-anchor="end"  stroke="#000" stroke-width="0.25">10</text>
<text x="384.20" y="142.35" font-size="10.90" fill="#000" text-anchor="end"  stroke="#000" stroke-width="0.25">0</text>
<text transform="translate(358.4,107.8) rotate(-90)" font-size="12.8" fill="#000" textLength="63" lengthAdjust="spacingAndGlyphs" stroke="#000" stroke-width="0.25">j<tspan font-size="8.0" dy="2.4">M</tspan><tspan dy="-2.4"> / µA cm</tspan><tspan font-size="7.8" dy="-3.7">-2</tspan></text>
<line x1="404.60" y1="140.00" x2="404.60" y2="366.00" stroke="#9a9a9a" stroke-width="0.80" stroke-dasharray="1,1.2"/>
<line x1="387.50" y1="139.00" x2="601.20" y2="139.00" stroke="#7a7a7a" stroke-width="1.80"/>
<line x1="391.00" y1="211.90" x2="605.00" y2="211.90" stroke="#7a7a7a" stroke-width="1.80"/>
<line x1="393.00" y1="244.60" x2="606.70" y2="244.60" stroke="#7a7a7a" stroke-width="1.80"/>
<line x1="392.30" y1="278.10" x2="606.00" y2="278.10" stroke="#7a7a7a" stroke-width="1.80"/>
<line x1="390.90" y1="317.10" x2="605.00" y2="317.10" stroke="#7a7a7a" stroke-width="1.80"/>
<line x1="391.00" y1="354.00" x2="605.00" y2="354.00" stroke="#7a7a7a" stroke-width="1.80"/>
<polyline points="404.30,138.50 404.60,20.40 405.10,20.40 405.50,59.44 405.80,69.53 406.10,76.73 406.40,86.35 406.70,87.03 407.00,88.80 407.30,89.01 407.60,94.44 407.90,100.28 408.20,105.71 408.50,107.53 408.80,112.04 409.10,112.78 409.40,114.85 409.70,115.31 410.00,114.82 410.30,115.43 410.60,117.21 410.90,116.70 411.20,117.77 411.50,115.41 411.80,115.18 412.10,119.04 412.40,119.10 412.70,122.13 413.00,123.44 413.30,123.62 413.60,123.20 413.90,123.17 414.20,123.79 414.50,125.66 414.80,125.24 415.10,124.85 415.40,124.36 415.70,126.05 416.00,126.80 416.30,126.38 416.60,127.57 416.90,128.34 417.20,128.59 417.50,128.33 417.80,128.05 418.10,128.67 418.40,127.03 418.70,126.53 419.00,127.34 419.30,127.20 419.60,128.49 419.90,128.14 420.20,127.51 420.50,126.65 420.80,128.61 421.10,128.07 421.40,127.94 421.70,128.34 422.00,129.11 422.30,126.77 422.60,127.54 422.90,128.73 423.20,129.75 423.50,129.41 423.80,129.72 424.10,129.38 424.40,129.48 424.70,131.80 425.00,132.44 425.30,131.10 425.60,131.16 425.90,130.23 426.20,131.90 426.50,130.81 426.80,132.30 427.10,131.18 427.40,131.45 427.70,132.39 428.00,130.28 428.30,130.66 428.60,129.63 428.90,129.91 429.20,130.91 429.50,129.50 429.80,130.79 430.10,128.79 430.40,128.73 430.70,129.12 431.00,128.44 431.30,128.77 431.60,127.34 431.90,126.23 432.20,127.32 432.50,126.01 432.80,126.44 433.10,127.41 433.40,127.56 433.70,128.11 434.00,127.22 434.30,126.97 434.60,126.57 434.90,127.28 435.20,126.96 435.50,126.65 435.80,128.32 436.10,128.92 436.40,128.18 436.70,129.87 437.00,129.50 437.30,129.09 437.60,131.12 437.90,128.77 438.20,129.86 438.50,130.33 438.80,131.45 439.10,129.94 439.40,132.12 439.70,129.15 440.00,130.20 440.30,130.06 440.60,130.21 440.90,129.51 441.20,129.25 441.50,129.73 441.80,129.62 442.10,129.23 442.40,129.43 442.70,128.71 443.00,128.61 443.30,128.50 443.60,127.95 443.90,128.61 444.20,127.66 444.50,127.57 444.80,128.37 445.10,127.76 445.40,127.31 445.70,128.02 446.00,127.14 446.30,127.32 446.60,126.73 446.90,126.76 447.20,127.02 447.50,127.15 447.80,126.41 448.10,127.00 448.40,126.76 448.70,126.68 449.00,126.89 449.30,126.25 449.60,125.61 449.90,125.56 450.20,126.34 450.50,125.39 450.80,125.47 451.10,125.77 451.40,125.76 451.70,125.66 452.00,125.34 452.30,125.00 452.60,125.59 452.90,124.58 453.20,124.81 453.50,125.57 453.80,124.65 454.10,125.34 454.40,125.03 454.70,125.03 455.00,124.99 455.30,124.75 455.60,125.14 455.90,124.25 456.20,124.46 456.50,124.95 456.80,124.88 457.10,124.74 457.40,124.75 457.70,124.28 458.00,124.58 458.30,124.51 458.60,124.74 458.90,124.06 459.20,124.08 459.50,124.08 459.80,123.92 460.10,124.45 460.40,124.15 460.70,123.65 461.00,124.51 461.30,124.02 461.60,124.28 461.90,124.11 462.20,123.66 462.50,123.49 462.80,123.67 463.10,124.02 463.40,123.79 463.70,123.89 464.00,123.39 464.30,123.28 464.60,122.93 464.90,123.13 465.20,123.06 465.50,123.18 465.80,123.15 466.10,123.11 466.40,122.29 466.70,122.61 467.00,121.86 467.30,121.99 467.60,122.23 467.90,121.46 468.20,122.30 468.50,121.83 468.80,121.39 469.10,121.48 469.40,121.73 469.70,120.90 470.00,121.69 470.30,121.30 470.60,121.05 470.90,120.56 471.20,120.93 471.50,120.38 471.80,120.10 472.10,120.85 472.40,120.19 472.70,120.54 473.00,120.11 473.30,120.09 473.60,119.79 473.90,120.15 474.20,120.03 474.50,119.53 474.80,119.64 475.10,119.25 475.40,119.87 475.70,119.30 476.00,119.38 476.30,119.28 476.60,118.68 476.90,118.86 477.20,119.27 477.50,118.99 477.80,118.53 478.10,118.37 478.40,119.07 478.70,118.93 479.00,118.93 479.30,118.08 479.60,118.41 479.90,118.21 480.20,118.13 480.50,117.98 480.80,118.21 481.10,118.06 481.40,117.43 481.70,117.32 482.00,117.40 482.30,118.02 482.60,118.00 482.90,117.64 483.20,117.16 483.50,117.19 483.80,117.16 484.10,116.50 484.40,117.22 484.70,117.02 485.00,115.90 485.30,116.00 485.60,115.87 485.90,116.37 486.20,116.27 486.50,116.16 486.80,115.44 487.10,115.42 487.40,114.89 487.70,114.56 488.00,115.08 488.30,114.83 488.60,115.05 488.90,114.95 489.20,114.38 489.50,113.70 489.80,114.12 490.10,114.37 490.40,113.72 490.70,113.76 491.00,113.46 491.30,113.24 491.60,113.14 491.90,112.85 492.20,113.01 492.50,113.32 492.80,113.19 493.10,112.33 493.40,112.46 493.70,112.22 494.00,112.17 494.30,112.00 494.60,112.71 494.90,112.06 495.20,112.49 495.50,112.60 495.80,111.78 496.10,111.81 496.40,111.59 496.70,111.53 497.00,112.39 497.30,112.20 497.60,112.22 497.90,111.28 498.20,111.47 498.50,111.54 498.80,110.93 499.10,111.49 499.40,111.66 499.70,111.65 500.00,111.50 500.30,110.96 500.60,111.58 500.90,111.00 501.20,111.35 501.50,111.00 501.80,111.10 502.10,111.15 502.40,111.53 502.70,112.03 503.00,111.90 503.30,111.54 503.60,111.75 503.90,111.91 504.20,111.71 504.50,111.83 504.80,112.77 505.10,112.66 505.40,112.63 505.70,112.05 506.00,112.43 506.30,112.66 506.60,112.62 506.90,111.88 507.20,111.98 507.50,112.15 507.80,111.57 508.10,111.99 508.40,111.33 508.70,112.07 509.00,111.34 509.30,111.42 509.60,111.71 509.90,111.52 510.20,111.87 510.50,111.43 510.80,110.92 511.10,110.70 511.40,111.22 511.70,110.97 512.00,110.20 512.30,110.70 512.60,110.03 512.90,109.62 513.20,109.40 513.50,109.53 513.80,109.72 514.10,109.25 514.40,108.82 514.70,109.00 515.00,108.13 515.30,108.73 515.60,108.49 515.90,108.05 516.20,107.43 516.50,107.61 516.80,107.97 517.10,107.82 517.40,107.44 517.70,107.19 518.00,107.31 518.30,106.34 518.60,106.82 518.90,106.67 519.20,106.40 519.50,105.55 519.80,105.81 520.10,104.95 520.40,104.99 520.70,105.46 521.00,104.51 521.30,104.87 521.60,104.19 521.90,104.88 522.20,104.74 522.50,104.68 522.80,104.16 523.10,104.51 523.40,103.49 523.70,103.86 524.00,103.23 524.30,103.67 524.60,104.00 524.90,103.62 525.20,103.59 525.50,103.61 525.80,103.47 526.10,103.09 526.40,103.17 526.70,102.39 527.00,102.39 527.30,102.81 527.60,102.71 527.90,102.26 528.20,102.23 528.50,101.99 528.80,102.39 529.10,101.91 529.40,101.68 529.70,101.46 530.00,101.60 530.30,101.92 530.60,101.07 530.90,100.69 531.20,100.90 531.50,100.74 531.80,101.19 532.10,100.64 532.40,100.53 532.70,100.08 533.00,100.05 533.30,100.02 533.60,99.84 533.90,99.67 534.20,100.06 534.50,99.51 534.80,99.09 535.10,99.36 535.40,98.56 535.70,98.38 536.00,98.53 536.30,98.53 536.60,98.49 536.90,97.78 537.20,98.21 537.50,98.38 537.80,97.47 538.10,97.48 538.40,97.46 538.70,97.62 539.00,97.53 539.30,97.16 539.60,96.92 539.90,96.36 540.20,96.57 540.50,95.94 540.80,95.74 541.10,95.70 541.40,96.34 541.70,95.54 542.00,95.27 542.30,95.79 542.60,95.28 542.90,94.78 543.20,95.22 543.50,95.44 543.80,94.29 544.10,95.22 544.40,94.66 544.70,94.75 545.00,94.49 545.30,94.16 545.60,93.98 545.90,94.31 546.20,93.86 546.50,94.07 546.80,93.80 547.10,93.95 547.40,93.41 547.70,93.16 548.00,93.12 548.30,93.21 548.60,93.27 548.90,93.03 549.20,92.32 549.50,93.24 549.80,92.52 550.10,92.05 550.40,92.68 550.70,91.87 551.00,91.60 551.30,92.46 551.60,91.98 551.90,91.94 552.20,91.58 552.50,91.14 552.80,91.94 553.10,90.85 553.40,91.12 553.70,91.43 554.00,91.25 554.30,90.51 554.60,90.62 554.90,90.29 555.20,90.25 555.50,89.96 555.80,89.69 556.10,90.37 556.40,90.21 556.70,89.56 557.00,89.22 557.30,89.66 557.60,89.27 557.90,89.48 558.20,88.94 558.50,88.69 558.80,88.76 559.10,88.75 559.40,88.82 559.70,88.31 560.00,88.01 560.30,87.85 560.60,87.39 560.90,87.19 561.20,87.64 561.50,87.20 561.80,86.94 562.10,86.94 562.40,86.46 562.70,86.17 563.00,86.26 563.30,86.35 563.60,86.19 563.90,86.37 564.20,85.71 564.50,85.94 564.80,85.37 565.10,85.84 565.40,85.21 565.70,84.68 566.00,84.30 566.30,84.19 566.60,83.45 566.90,83.70 567.20,83.67 567.50,83.25 567.80,82.26 568.10,82.52 568.40,81.71 568.70,82.09 569.00,81.33 569.30,81.10 569.60,80.77 569.90,80.81 570.20,80.65 570.50,79.69 570.80,80.16 571.10,79.08 571.40,78.57 571.70,79.12 572.00,78.95 572.30,77.83 572.60,77.36 572.90,77.40 573.20,77.02 573.50,77.89 573.80,77.16 574.10,76.73 574.40,77.25 574.70,76.96 575.00,76.61 575.30,76.46 575.60,76.82 575.90,76.85 576.20,77.23 576.50,76.74 576.80,77.01 577.10,76.38 577.40,76.81 577.70,75.97 578.00,76.61 578.30,76.04 578.60,75.95 578.90,76.04 579.20,75.04 579.50,75.35 579.80,75.04 580.10,74.80 580.40,74.27 580.70,74.81 581.00,73.96 581.30,73.97 581.60,73.37 581.90,73.05 582.20,73.07 582.50,72.52 582.80,73.34 583.10,72.18 583.40,72.04 583.70,72.08 584.00,71.75 584.30,71.43 584.60,70.91 584.90,70.87 585.20,71.32 585.50,70.56 585.80,70.84 586.10,70.48 586.40,70.57 586.70,69.50 587.00,69.72 587.30,68.93 587.60,69.03 587.90,69.27 588.20,68.69 588.50,69.00 588.80,68.56 589.10,67.85 589.40,68.55 589.70,68.41 590.00,68.30 590.30,69.22 590.60,69.48 590.90,68.98 591.20,69.92 591.50,70.04 591.80,69.98 592.10,70.08" fill="none" stroke="#000000" stroke-width="0.90" stroke-linejoin="round"/>
<polyline points="405.60,62.46 405.85,67.73 406.10,78.90 406.35,84.50 406.60,82.22 406.85,84.46 407.10,88.59 407.35,90.14 407.60,96.98 407.85,100.61 408.10,106.35 408.35,108.74 408.60,112.98 408.85,110.06 409.10,116.59 409.35,113.28 409.60,114.50 409.85,112.30 410.10,116.00 410.35,117.50 410.60,119.84 410.85,119.22 411.10,118.98 411.35,116.11 411.60,113.03 411.85,114.87 412.10,118.35 412.35,116.27 412.60,117.73 412.85,121.68 413.10,118.35 413.35,122.80 413.60,121.87 413.85,125.19 414.10,123.57 414.35,125.23 414.60,125.36 414.85,127.31 415.10,125.06 415.35,126.28 415.60,121.82 415.85,126.29 416.10,127.87 416.35,126.43 416.60,126.54 416.85,128.51 417.10,127.19 417.35,128.45 417.60,126.22 417.85,123.67 418.10,126.63 418.35,127.99 418.60,128.42 418.85,125.44 419.10,126.44 419.35,128.32 419.60,128.13 419.85,130.28 420.10,129.31 420.35,126.17 420.60,127.83 420.85,127.59 421.10,125.09 421.35,128.37 421.60,128.16 421.85,128.01 422.10,128.67 422.35,125.78 422.60,127.29 422.85,128.39 423.10,129.56 423.35,125.79 423.60,127.06 423.85,129.96 424.10,128.90 424.35,130.55 424.60,131.54 424.85,128.94 425.10,129.91 425.35,132.74 425.60,131.17 425.85,131.29 426.10,134.44 426.35,134.57 426.60,131.35 426.85,130.32" fill="none" stroke="#000000" stroke-width="0.90" stroke-linejoin="round"/>
<line x1="417.00" y1="129.60" x2="417.00" y2="138.30" stroke="#555" stroke-width="0.80"/>
<polyline points="396.40,138.40 404.30,138.20 404.45,79.00 404.60,79.00 404.90,118.00 405.40,126.42 405.75,127.42 406.10,128.97 406.45,129.46 406.80,129.64 407.15,130.74 407.50,131.54 407.85,131.39 408.20,131.53 408.55,132.15 408.90,133.17 409.25,133.04 409.60,133.18 409.95,134.62 410.30,134.12 410.65,134.10 411.00,134.94 411.35,134.27 411.70,135.09 412.05,134.97 412.40,135.35 412.75,135.68 413.10,135.35 413.45,136.15 413.80,135.86 414.15,136.62 414.50,136.93 414.85,135.83 415.20,136.19 415.55,137.26 415.90,137.35 416.25,138.18 416.60,137.60 416.95,136.60 417.30,137.97 417.65,138.43 418.00,137.34 418.35,137.51 418.70,136.82 419.05,137.63 419.40,137.56 419.75,137.10 420.10,137.99 420.45,137.65 420.80,138.28 421.15,137.66 421.50,136.23 421.85,137.56 422.20,137.88 422.55,137.32 422.90,137.67 423.25,136.84 423.60,137.77 423.95,137.48 424.30,136.07 424.65,138.04 425.00,138.08 425.35,137.73 425.70,137.30 426.05,137.99 426.40,137.80 426.75,137.34 427.10,137.52 427.45,136.84 427.80,137.45 428.15,136.93 428.50,138.54 428.85,138.11 429.20,137.88 429.55,137.05 429.90,137.15 430.25,137.64 430.60,136.49 430.95,137.55 431.30,136.30 431.65,135.79 432.00,137.45 432.35,137.38 432.70,136.67 433.05,137.42 433.40,137.01 433.75,135.68 434.10,135.96 434.45,136.52 434.80,137.36 435.15,137.69 435.50,135.83 435.85,136.11 436.20,137.61 436.55,136.51 436.90,136.51 437.25,137.38 437.60,136.96 437.95,137.17 438.30,137.31 438.65,136.07 439.00,137.14 439.35,137.41 439.70,135.86 440.05,137.39 440.40,136.99 440.75,136.16 441.10,136.92 441.45,136.70 441.80,135.92 442.15,136.15 442.50,137.27 442.85,136.45 443.20,135.76 443.55,135.75 443.90,136.65 444.25,136.21 444.60,135.91 444.95,135.99 445.30,136.24 445.65,136.21 446.00,136.91 446.35,136.26 446.70,135.91 447.05,135.27 447.40,135.87 447.75,136.61 448.10,137.18 448.45,136.18 448.80,135.72 449.15,136.03 449.50,136.46 449.85,136.42 450.20,135.40 450.55,136.72 450.90,137.04 451.25,136.56 451.60,136.13 451.95,136.45 452.30,135.86 452.65,135.86 453.00,137.00 453.35,136.03 453.70,136.02 454.05,135.35 454.40,136.95 454.75,135.29 455.10,135.78 455.45,136.00 455.80,135.12 456.15,134.60 456.50,136.13 456.85,137.03 457.20,136.96 457.55,136.82 457.90,135.35 458.25,135.92 458.60,135.47 458.95,135.73 459.30,135.67 459.65,135.39 460.00,135.78 460.35,137.27 460.70,136.80 461.05,136.77 461.40,135.75 461.75,136.05 462.10,135.74 462.45,136.47 462.80,136.27 463.15,136.27 463.50,136.48 463.85,135.21 464.20,134.67 464.55,135.09 464.90,134.27 465.25,135.29 465.60,134.92 465.95,134.39 466.30,134.99 466.65,134.06 467.00,135.16 467.35,134.94 467.70,134.32 468.05,134.98 468.40,134.33 468.75,133.87 469.10,134.04 469.45,133.49 469.80,135.00 470.15,133.99 470.50,133.98 470.85,135.57 471.20,133.50 471.55,134.80 471.90,133.92 472.25,134.47 472.60,132.99 472.95,132.78 473.30,135.23 473.65,133.23 474.00,132.75 474.35,133.67 474.70,133.67 475.05,132.94 475.40,133.60 475.75,133.02 476.10,133.08 476.45,133.72 476.80,134.45 477.15,134.58 477.50,132.78 477.85,133.30 478.20,133.29 478.55,132.94 478.90,134.06 479.25,133.86 479.60,133.33 479.95,133.68 480.30,132.69 480.65,133.25 481.00,133.86 481.35,132.90 481.70,134.13 482.05,132.73 482.40,132.72 482.75,132.44 483.10,133.78 483.45,134.03 483.80,133.68 484.15,133.89 484.50,134.19 484.85,132.73 485.20,133.65 485.55,132.13 485.90,131.84 486.25,132.93 486.60,132.61 486.95,131.97 487.30,131.96 487.65,132.88 488.00,132.81 488.35,132.47 488.70,131.93 489.05,131.69 489.40,134.24 489.75,133.81 490.10,133.21 490.45,132.27 490.80,132.16 491.15,132.40 491.50,132.72 491.85,133.21 492.20,132.89 492.55,132.59 492.90,132.18 493.25,132.75 493.60,131.68 493.95,131.56 494.30,132.32 494.65,132.31 495.00,133.20 495.35,132.44 495.70,133.20 496.05,131.36 496.40,132.19 496.75,132.58 497.10,133.35 497.45,131.78 497.80,132.29 498.15,133.17 498.50,132.06 498.85,131.46 499.20,132.38 499.55,132.16 499.90,131.44 500.25,131.91 500.60,131.98 500.95,131.41 501.30,131.51 501.65,131.28 502.00,131.31 502.35,131.82 502.70,130.60 503.05,130.64 503.40,131.09 503.75,131.56 504.10,130.27 504.45,130.34 504.80,129.82 505.15,130.56 505.50,130.75 505.85,130.36 506.20,131.00 506.55,129.41 506.90,129.48 507.25,130.59 507.60,130.87 507.95,129.33 508.30,129.96 508.65,129.60 509.00,129.81 509.35,130.05 509.70,130.05 510.05,129.51 510.40,128.70 510.75,129.94 511.10,129.61 511.45,128.88 511.80,129.66 512.15,128.83 512.50,129.29 512.85,128.75 513.20,129.08 513.55,128.79 513.90,129.21 514.25,128.30 514.60,128.10 514.95,127.65 515.30,129.69 515.65,127.97 516.00,128.46 516.35,128.04 516.70,128.84 517.05,128.05 517.40,128.17 517.75,128.48 518.10,127.93 518.45,126.37 518.80,126.83 519.15,126.89 519.50,126.95 519.85,127.40 520.20,128.46 520.55,127.78 520.90,127.54 521.25,127.25 521.60,126.58 521.95,126.83 522.30,128.65 522.65,127.45 523.00,127.00 523.35,126.79 523.70,127.35 524.05,126.94 524.40,126.64 524.75,126.73 525.10,126.75 525.45,128.31 525.80,126.86 526.15,126.69 526.50,127.03 526.85,125.90 527.20,126.86 527.55,126.55 527.90,126.47 528.25,126.59 528.60,126.20 528.95,126.22 529.30,127.07 529.65,126.44 530.00,127.91 530.35,126.34 530.70,126.47 531.05,125.99 531.40,127.46 531.75,126.19 532.10,126.05 532.45,124.67 532.80,125.53 533.15,125.80 533.50,126.36 533.85,125.52 534.20,125.68 534.55,126.08 534.90,126.07 535.25,125.78 535.60,125.52 535.95,126.43 536.30,125.44 536.65,125.22 537.00,126.22 537.35,124.72 537.70,125.64 538.05,126.01 538.40,125.27 538.75,124.53 539.10,124.54 539.45,125.36 539.80,125.43 540.15,125.73 540.50,123.90 540.85,124.67 541.20,124.06 541.55,125.10 541.90,124.61 542.25,124.38 542.60,125.25 542.95,124.88 543.30,124.19 543.65,124.52 544.00,122.92 544.35,124.28 544.70,125.44 545.05,124.38 545.40,123.54 545.75,123.32 546.10,124.16 546.45,123.91 546.80,122.95 547.15,124.55 547.50,122.51 547.85,122.60 548.20,122.88 548.55,123.21 548.90,122.84 549.25,122.74 549.60,122.32 549.95,122.25 550.30,123.47 550.65,122.32 551.00,122.85 551.35,122.06 551.70,122.32 552.05,122.73 552.40,120.70 552.75,121.02 553.10,119.82 553.45,119.93 553.80,120.57 554.15,120.31 554.50,121.26 554.85,120.15 555.20,120.58 555.55,120.07 555.90,120.09 556.25,121.03 556.60,120.73 556.95,121.51 557.30,119.96 557.65,121.01 558.00,120.87 558.35,119.60 558.70,122.00 559.05,120.78 559.40,120.59 559.75,120.86 560.10,119.88 560.45,121.44 560.80,119.47 561.15,119.93 561.50,120.11 561.85,119.75 562.20,119.83 562.55,120.90 562.90,121.71 563.25,121.12 563.60,120.33 563.95,119.00 564.30,120.40 564.65,119.68 565.00,120.65 565.35,120.99 565.70,120.19 566.05,120.10 566.40,120.60 566.75,120.67 567.10,121.29 567.45,119.99 567.80,120.53 568.15,121.25 568.50,120.60 568.85,120.11 569.20,120.64 569.55,120.76 569.90,119.00 570.25,121.30 570.60,120.04 570.95,120.43 571.30,118.74 571.65,120.65 572.00,120.22 572.35,119.29 572.70,120.00 573.05,120.28 573.40,119.12 573.75,120.25 574.10,119.50 574.45,119.56 574.80,119.77 575.15,119.54 575.50,118.10 575.85,118.47 576.20,118.22 576.55,119.53 576.90,118.12 577.25,119.43 577.60,118.18 577.95,117.79 578.30,117.96 578.65,118.04 579.00,119.27 579.35,118.95 579.70,117.25 580.05,118.53 580.40,118.46 580.75,118.78 581.10,118.26 581.45,117.44 581.80,117.99 582.15,117.33 582.50,117.47 582.85,117.38 583.20,115.73 583.55,116.48 583.90,115.28 584.25,116.72 584.60,116.11 584.95,116.77 585.30,116.95 585.65,116.79 586.00,114.97 586.35,116.90 586.70,115.25 587.05,115.78 587.40,115.57 587.75,115.57 588.10,114.94 588.45,115.76 588.80,114.46 589.15,115.40 589.50,114.94 589.85,113.99 590.20,115.06 590.55,113.38 590.90,114.01 591.25,112.99 591.60,113.92" fill="none" stroke="#0b870b" stroke-width="1.30" stroke-linejoin="round"/>
<polyline points="396.00,208.24 396.25,209.92 396.50,208.50 396.75,209.39 397.00,210.42 397.25,209.11 397.50,207.32 397.75,210.72 398.00,207.14 398.25,207.71 398.50,209.48 398.75,211.29 399.00,209.53 399.25,210.60 399.50,211.49 399.75,210.64 400.00,209.13 400.25,211.75 400.50,213.72 400.75,208.45 401.00,209.94 401.25,208.26 401.50,207.10 401.75,211.92 402.00,209.93 402.25,212.58 402.50,209.64 402.75,211.32 403.00,205.77 403.25,208.12 403.50,209.18 403.75,206.48 404.00,208.63 404.30,211.00 404.50,138.80 404.90,140.00 405.20,151.85 405.40,162.75 405.60,164.50 405.80,180.89 406.00,188.87 406.20,184.52 406.40,189.77 406.60,190.69 406.80,196.08 407.00,193.91 407.20,195.97 407.40,196.84 407.60,196.10 407.80,202.96 408.00,199.49 408.20,199.92 408.40,198.47 408.60,202.14 408.80,197.44 409.00,201.02 409.20,201.35 409.40,201.85 409.60,200.76 409.80,204.30 410.00,199.77 410.20,202.50 410.40,203.00 410.60,201.16 410.80,201.40 411.00,206.99 411.20,207.99 411.40,202.98 411.60,207.56 411.80,206.06 412.00,212.24 412.20,204.79 412.40,206.06 412.60,208.62 412.80,208.53 413.00,207.54 413.20,210.53 413.40,209.29 413.60,208.97 413.80,207.73 414.00,210.87 414.20,208.83 414.40,206.65 414.60,206.90 414.80,208.08 415.00,211.24 415.20,209.73 415.40,207.59 415.60,208.52 415.80,207.94 416.00,206.84 416.20,210.60 416.40,211.01 416.60,210.88 416.80,209.37 417.00,211.47 417.20,210.86 417.40,210.36 417.60,209.78 417.80,211.72 418.00,210.02 418.20,212.37 418.40,210.70 418.60,209.66 418.80,210.13 419.00,211.25 419.20,213.51 419.40,211.17 419.60,211.09 419.80,210.93 420.00,209.96 420.20,212.58 420.40,211.89 420.60,212.61 420.80,210.85 421.00,211.73 421.20,212.85 421.40,209.40 421.60,211.39 421.80,212.24 422.00,211.47 422.20,213.47 422.40,211.97 422.60,213.54 422.80,212.07 423.00,211.37 423.20,211.02 423.40,209.94 423.60,210.43 423.80,210.51 424.00,211.57 424.20,212.39 424.40,212.42 424.60,211.39 424.80,213.66 425.00,210.71 425.20,210.78 425.40,212.74 425.60,211.67 425.80,212.74 426.00,212.08 426.20,211.48 426.40,212.81 426.60,214.84 426.80,210.99 427.00,213.26 427.20,210.61 427.40,210.68 427.60,213.05 427.80,210.04 428.00,211.54 428.20,212.83 428.40,214.35 428.60,211.54 428.80,210.75 429.00,212.02 429.20,209.82 429.40,212.91 429.60,211.53 429.80,211.78 430.00,212.04 430.20,212.40 430.40,212.35 430.60,210.38 430.80,213.79 431.00,214.18 431.20,216.12 431.40,206.92 431.60,215.42 431.80,207.73 432.00,213.85 432.20,205.83 432.40,206.17 432.60,211.90 432.80,212.65 433.00,211.70 433.20,213.32 433.40,210.04 433.60,207.26 433.80,210.86 434.00,210.32 434.20,211.43 434.40,211.76 434.60,209.49 434.80,213.36 435.00,209.04 435.20,205.14 435.40,209.70 435.60,208.37 435.80,214.10 436.00,211.79 436.20,215.05 436.40,209.60 436.60,215.48 436.80,206.46 437.00,212.71 437.20,212.37 437.40,210.38 437.60,207.25 437.80,216.58 438.00,209.89 438.20,211.15 438.40,210.85 438.60,213.33 438.80,208.12 439.00,212.64 439.20,210.33 439.40,209.66 439.60,212.31 439.80,211.42 440.00,212.36 440.20,210.32 440.40,211.15 440.60,206.93 440.80,207.47 441.00,214.91 441.20,213.03 441.40,206.77 441.60,213.48 441.80,210.21 442.00,215.93 442.20,212.01 442.40,212.10 442.60,210.89 442.80,209.49 443.00,212.73 443.20,209.84 443.40,210.36 443.60,211.16 443.80,214.14 444.00,211.11 444.20,212.61 444.40,209.64 444.60,207.75 444.80,213.68 445.00,205.99 445.20,211.72 445.40,210.67 445.60,213.06 445.80,210.58 446.00,209.73 446.20,210.53 446.40,213.03 446.60,209.11 446.80,206.89 447.00,208.77 447.20,210.58 447.40,210.13 447.60,213.96 447.80,207.65 448.00,209.71 448.20,205.78 448.40,212.58 448.60,210.09 448.80,211.98 449.00,208.49 449.20,213.08 449.40,208.26 449.60,208.68 449.80,207.31 450.00,211.09 450.20,212.48 450.40,210.75 450.60,212.03 450.80,208.54 451.00,214.54 451.20,210.18 451.40,212.29 451.60,209.58 451.80,207.22 452.00,208.16 452.20,215.87 452.40,210.64 452.60,207.65 452.80,213.01 453.00,212.10 453.20,211.90 453.40,213.60 453.60,211.94 453.80,209.15 454.00,212.92 454.20,212.52 454.40,210.70 454.60,209.88 454.80,212.06 455.00,205.48 455.20,212.04 455.40,209.84 455.60,214.02 455.80,210.55 456.00,206.45 456.20,212.95 456.40,212.33 456.60,214.00 456.80,213.44 457.00,209.30 457.20,209.00 457.40,209.69 457.60,206.85 457.80,205.89 458.00,207.83 458.20,206.49 458.40,212.95 458.60,210.58 458.80,214.15 459.00,211.79 459.20,206.31 459.40,206.00 459.60,211.23 459.80,216.26 460.00,212.58 460.20,207.30 460.40,213.28 460.60,206.78 460.80,208.53 461.00,212.17 461.20,211.62 461.40,210.29 461.60,213.63 461.80,212.29 462.00,208.43 462.20,210.10 462.40,211.50 462.60,211.43 462.80,209.30 463.00,207.33 463.20,206.78 463.40,210.02 463.60,210.67 463.80,209.71 464.00,210.78 464.20,209.50 464.40,210.68 464.60,214.70 464.80,211.82 465.00,210.86 465.20,204.58 465.40,209.20 465.60,215.28 465.80,207.95 466.00,205.28 466.20,209.04 466.40,207.30 466.60,209.16 466.80,207.92 467.00,209.26 467.20,209.32 467.40,209.46 467.60,206.74 467.80,211.82 468.00,208.51 468.20,208.65 468.40,209.53 468.60,208.20 468.80,204.81 469.00,209.99 469.20,209.89 469.40,207.58 469.60,208.11 469.80,206.75 470.00,212.60 470.20,213.53 470.40,207.50 470.60,206.88 470.80,208.59 471.00,207.71 471.20,214.60 471.40,208.34 471.60,209.10 471.80,206.64 472.00,209.40 472.20,211.91 472.40,208.41 472.60,205.19 472.80,213.72 473.00,208.05 473.20,209.25 473.40,211.09 473.60,207.86 473.80,207.45 474.00,211.36 474.20,212.25 474.40,209.46 474.60,206.85 474.80,212.25 475.00,206.84 475.20,211.56 475.40,213.28 475.60,213.39 475.80,211.62 476.00,211.02 476.20,210.52 476.40,210.66 476.60,211.48 476.80,213.04 477.00,203.69 477.20,204.04 477.40,209.44 477.60,210.71 477.80,205.30 478.00,212.57 478.20,203.72 478.40,207.21 478.60,206.30 478.80,207.10 479.00,206.58 479.20,205.90 479.40,213.33 479.60,208.61 479.80,211.89 480.00,207.21 480.20,211.65 480.40,213.83 480.60,208.10 480.80,207.95 481.00,210.04 481.20,207.93 481.40,207.34 481.60,206.38 481.80,207.28 482.00,205.46 482.20,209.51 482.40,213.77 482.60,214.83 482.80,208.65 483.00,213.70 483.20,204.67 483.40,212.20 483.60,201.70 483.80,214.08 484.00,207.01 484.20,209.25 484.40,209.44 484.60,203.77 484.80,207.00 485.00,204.52 485.20,213.97 485.40,211.81 485.60,206.64 485.80,212.24 486.00,207.75 486.20,207.39 486.40,205.27 486.60,209.62 486.80,210.48 487.00,210.89 487.20,208.12 487.40,205.74 487.60,208.05 487.80,207.88 488.00,205.57 488.20,208.91 488.40,210.13 488.60,208.20 488.80,210.37 489.00,207.32 489.20,205.52 489.40,208.95 489.60,209.05 489.80,210.76 490.00,208.68 490.20,208.62 490.40,207.52 490.60,206.55 490.80,208.94 491.00,206.08 491.20,209.03 491.40,212.77 491.60,208.58 491.80,210.79 492.00,205.98 492.20,208.87 492.40,205.79 492.60,204.75 492.80,208.28 493.00,207.37 493.20,203.23 493.40,210.86 493.60,209.26 493.80,212.23 494.00,208.13 494.20,207.46 494.40,213.58 494.60,207.48 494.80,209.37 495.00,209.21 495.20,209.55 495.40,211.32 495.60,211.90 495.80,210.28 496.00,205.87 496.20,208.18 496.40,210.78 496.60,206.44 496.80,205.96 497.00,206.12 497.20,212.53 497.40,208.20 497.60,211.73 497.80,203.69 498.00,208.49 498.20,206.36 498.40,206.33 498.60,205.97 498.80,202.99 499.00,211.23 499.20,207.62 499.40,209.26 499.60,209.64 499.80,214.83 500.00,209.09 500.20,206.78 500.40,204.61 500.60,211.38 500.80,208.23 501.00,203.80 501.20,208.63 501.40,212.38 501.60,208.44 501.80,206.60 502.00,201.68 502.20,210.23 502.40,207.28 502.60,207.82 502.80,207.65 503.00,204.54 503.20,204.89 503.40,210.06 503.60,201.98 503.80,203.67 504.00,209.89 504.20,204.25 504.40,204.36 504.60,210.96 504.80,201.79 505.00,206.41 505.20,207.28 505.40,202.01 505.60,202.80 505.80,210.94 506.00,203.97 506.20,210.40 506.40,210.36 506.60,204.12 506.80,198.93 507.00,208.55 507.20,202.63 507.40,207.17 507.60,203.03 507.80,205.22 508.00,207.09 508.20,201.43 508.40,206.08 508.60,203.33 508.80,207.45 509.00,208.31 509.20,203.74 509.40,206.25 509.60,205.11 509.80,208.69 510.00,204.08 510.20,207.88 510.40,203.19 510.60,208.34 510.80,204.64 511.00,202.93 511.20,200.81 511.40,203.81 511.60,204.71 511.80,204.59 512.00,205.55 512.20,208.37 512.40,203.27 512.60,207.16 512.80,212.76 513.00,207.24 513.20,204.83 513.40,206.26 513.60,201.93 513.80,201.79 514.00,205.39 514.20,205.74 514.40,206.57 514.60,200.90 514.80,203.27 515.00,205.60 515.20,204.56 515.40,208.03 515.60,204.42 515.80,201.05 516.00,200.74 516.20,207.64 516.40,206.69 516.60,208.09 516.80,203.40 517.00,204.74 517.20,198.42 517.40,207.91 517.60,203.41 517.80,198.76 518.00,198.49 518.20,208.50 518.40,206.75 518.60,204.35 518.80,199.94 519.00,205.82 519.20,205.23 519.40,200.48 519.60,208.55 519.80,201.64 520.00,205.16 520.20,206.38 520.40,205.54 520.60,208.30 520.80,199.92 521.00,207.43 521.20,204.74 521.40,200.93 521.60,203.11 521.80,206.74 522.00,208.99 522.20,205.03 522.40,200.22 522.60,201.30 522.80,200.22 523.00,201.23 523.20,204.04 523.40,202.01 523.60,208.25 523.80,201.51 524.00,198.20 524.20,202.89 524.40,206.13 524.60,198.96 524.80,203.25 525.00,201.24 525.20,196.58 525.40,202.10 525.60,205.65 525.80,204.57 526.00,205.97 526.20,199.82 526.40,200.91 526.60,202.91 526.80,201.88 527.00,204.09 527.20,202.25 527.40,201.05 527.60,198.06 527.80,205.35 528.00,201.65 528.20,199.56 528.40,203.14 528.60,205.50 528.80,203.24 529.00,205.58 529.20,204.65 529.40,207.19 529.60,203.56 529.80,201.30 530.00,205.05 530.20,204.69 530.40,203.38 530.60,201.49 530.80,204.06 531.00,203.55 531.20,197.58 531.40,204.11 531.60,201.46 531.80,201.36 532.00,204.05 532.20,204.95 532.40,202.93 532.60,200.74 532.80,201.94 533.00,204.41 533.20,197.69 533.40,200.20 533.60,203.22 533.80,204.08 534.00,200.48 534.20,206.75 534.40,201.67 534.60,206.49 534.80,202.41 535.00,204.79 535.20,198.24 535.40,202.19 535.60,202.76 535.80,203.25 536.00,197.16 536.20,202.25 536.40,199.65 536.60,204.93 536.80,202.89 537.00,206.33 537.20,201.76 537.40,200.46 537.60,201.48 537.80,203.75 538.00,205.06 538.20,195.03 538.40,201.82 538.60,200.07 538.80,201.30 539.00,199.54 539.20,198.09 539.40,203.45 539.60,199.28 539.80,201.99 540.00,202.33 540.20,199.19 540.40,199.99 540.60,203.01 540.80,198.68 541.00,205.66 541.20,202.89 541.40,200.01 541.60,200.23 541.80,197.17 542.00,198.54 542.20,199.78 542.40,201.09 542.60,199.52 542.80,201.82 543.00,200.12 543.20,197.15 543.40,202.71 543.60,198.99 543.80,203.18 544.00,201.87 544.20,202.39 544.40,200.17 544.60,200.36 544.80,201.34 545.00,203.04 545.20,202.45 545.40,202.56 545.60,201.30 545.80,200.59 546.00,204.18 546.20,201.20 546.40,197.49 546.60,201.99 546.80,200.29 547.00,202.07 547.20,198.60 547.40,198.78 547.60,199.01 547.80,201.35 548.00,197.55 548.20,196.94 548.40,196.36 548.60,196.23 548.80,199.53 549.00,194.69 549.20,190.48 549.40,194.36 549.60,193.52 549.80,201.37 550.00,195.49 550.20,190.12 550.40,192.89 550.60,195.82 550.80,196.13 551.00,193.71 551.20,195.33 551.40,200.43 551.60,193.84 551.80,191.26 552.00,193.91 552.20,190.92 552.40,197.21 552.60,193.43 552.80,194.20 553.00,192.22 553.20,193.13 553.40,194.94 553.60,197.65 553.80,194.37 554.00,195.73 554.20,200.26 554.40,190.42 554.60,187.68 554.80,193.50 555.00,202.26 555.20,200.82 555.40,192.79 555.60,195.74 555.80,194.67 556.00,197.87 556.20,194.04 556.40,198.59 556.60,202.10 556.80,193.03 557.00,198.21 557.20,196.62 557.40,195.94 557.60,198.44 557.80,196.87 558.00,195.62 558.20,192.31 558.40,193.11 558.60,192.11 558.80,191.85 559.00,196.36 559.20,194.26 559.40,201.81 559.60,195.90 559.80,196.62 560.00,196.00 560.20,196.16 560.40,197.60 560.60,199.23 560.80,197.02 561.00,195.84 561.20,192.96 561.40,196.79 561.60,193.37 561.80,197.04 562.00,195.85 562.20,192.33 562.40,200.27 562.60,198.88 562.80,197.77 563.00,193.44 563.20,199.01 563.40,197.93 563.60,197.02 563.80,199.25 564.00,198.59 564.20,199.27 564.40,195.37 564.60,197.63 564.80,196.74 565.00,195.33 565.20,197.69 565.40,195.44 565.60,201.65 565.80,195.36 566.00,196.91 566.20,195.59 566.40,195.77 566.60,198.93 566.80,196.04 567.00,200.64 567.20,199.13 567.40,191.73 567.60,199.11 567.80,191.41 568.00,195.07 568.20,195.21 568.40,195.23 568.60,196.33 568.80,198.91 569.00,195.09 569.20,196.61 569.40,193.43 569.60,195.35 569.80,194.62 570.00,195.00 570.20,193.49 570.40,198.46 570.60,192.11 570.80,195.76 571.00,195.81 571.20,195.09 571.40,196.65 571.60,199.69 571.80,191.64 572.00,195.54 572.20,202.81 572.40,195.10 572.60,190.64 572.80,195.99 573.00,195.58 573.20,196.23 573.40,193.58 573.60,190.98 573.80,193.82 574.00,194.16 574.20,196.59 574.40,194.71 574.60,193.61 574.80,197.53 575.00,194.44 575.20,197.76 575.40,194.86 575.60,196.78 575.80,191.55 576.00,198.51 576.20,194.84 576.40,197.28 576.60,194.61 576.80,192.83 577.00,193.82 577.20,192.21 577.40,194.09 577.60,190.86 577.80,191.78 578.00,196.62 578.20,192.83 578.40,192.33 578.60,190.15 578.80,196.13 579.00,196.24 579.20,196.89 579.40,193.62 579.60,197.83 579.80,192.07 580.00,193.73 580.20,188.96 580.40,192.03 580.60,194.10 580.80,194.33 581.00,192.09 581.20,191.18 581.40,189.69 581.60,186.56 581.80,196.22 582.00,195.43 582.20,191.61 582.40,195.71 582.60,187.80 582.80,195.00 583.00,194.58 583.20,194.42 583.40,194.08 583.60,187.84 583.80,189.48 584.00,188.43 584.20,193.01 584.40,186.72 584.60,189.12 584.80,186.39 585.00,188.00 585.20,189.47 585.40,194.37 585.60,195.16 585.80,193.17 586.00,190.28 586.20,187.62 586.40,191.36 586.60,192.66 586.80,183.64 587.00,190.96 587.20,188.16 587.40,189.23 587.60,186.62 587.80,193.96 588.00,189.18 588.20,186.74 588.40,189.84 588.60,190.30 588.80,192.25 589.00,189.17 589.20,193.96 589.40,189.92 589.60,185.88 589.80,188.60 590.00,187.11 590.20,190.28 590.40,184.63 590.60,189.19" fill="none" stroke="#ff8a10" stroke-width="1.00" stroke-linejoin="round"/>
<polyline points="404.80,160.00 405.90,186.30 408.30,197.30 411.40,203.50 417.70,208.30 425.50,211.40 434.90,209.00 450.60,208.30 464.80,208.30 475.00,206.00 497.00,205.00 519.00,201.60 541.00,197.30 552.00,194.00 563.00,194.00 574.00,192.90 585.00,189.60 590.40,187.40" fill="none" stroke="#000000" stroke-width="1.00" stroke-linejoin="round" stroke-dasharray="2.6,1.8"/>
<polyline points="404.70,212.00 405.60,215.20 408.60,231.60 414.80,239.80 425.00,242.80 441.30,242.80 457.70,241.80 468.00,240.50 475.00,239.20 497.00,238.10 508.00,236.30 530.00,233.70 545.30,230.40 563.00,227.10 574.00,226.00 585.00,222.70 591.50,221.20" fill="none" stroke="#000000" stroke-width="1.00" stroke-linejoin="round" stroke-dasharray="2.6,1.8"/>
<polyline points="393.30,243.75 393.80,243.91 394.30,244.83 394.80,243.89 395.30,245.31 395.80,245.12 396.30,244.94 396.80,244.44 397.30,245.09 397.80,244.04 398.30,244.69 398.80,244.27 399.30,244.48 399.80,245.34 400.30,243.99 400.80,244.96 401.30,244.98 401.80,243.76 402.30,245.39 402.80,244.41 403.30,244.58 403.80,244.14 404.20,244.50 404.50,212.00 405.00,213.00 405.60,216.51 405.95,222.00 406.30,224.97 406.65,229.32 407.00,231.31 407.35,230.09 407.70,232.31 408.05,232.87 408.40,234.37 408.75,235.51 409.10,237.42 409.45,234.80 409.80,236.01 410.15,236.81 410.50,238.89 410.85,238.48 411.20,237.68 411.55,237.88 411.90,239.47 412.25,240.14 412.60,239.38 412.95,239.64 413.30,239.04 413.65,240.76 414.00,240.48 414.35,239.32 414.70,239.74 415.05,239.13 415.40,240.85 415.75,240.66 416.10,240.92 416.45,241.31 416.80,242.20 417.15,240.84 417.50,241.64 417.85,242.12 418.20,241.95 418.55,242.89 418.90,241.99 419.25,242.21 419.60,242.00 419.95,241.98 420.30,242.00 420.65,244.46 421.00,243.99 421.35,242.05 421.70,243.60 422.05,242.37 422.40,243.64 422.75,243.28 423.10,241.83 423.45,242.13 423.80,243.06 424.15,243.48 424.50,244.35 424.85,243.02 425.20,243.81 425.55,242.74 425.90,243.29 426.25,244.11 426.60,243.99 426.95,244.13 427.30,241.99 427.65,243.02 428.00,244.54 428.35,243.61 428.70,244.24 429.05,245.64 429.40,244.15 429.75,243.86 430.10,243.39 430.45,242.93 430.80,244.80 431.15,243.60 431.50,244.23 431.85,242.31 432.20,245.01 432.55,243.16 432.90,242.56 433.25,243.48 433.60,243.51 433.95,243.31 434.30,242.72 434.65,243.29 435.00,243.48 435.35,242.89 435.70,243.56 436.05,242.85 436.40,242.38 436.75,243.42 437.10,242.75 437.45,244.18 437.80,243.82 438.15,241.33 438.50,241.72 438.85,243.88 439.20,241.96 439.55,242.24 439.90,243.26 440.25,243.59 440.60,242.94 440.95,241.84 441.30,243.17 441.65,243.66 442.00,242.96 442.35,241.45 442.70,243.10 443.05,242.87 443.40,242.78 443.75,242.86 444.10,243.67 444.45,241.86 444.80,243.00 445.15,241.92 445.50,242.48 445.85,243.51 446.20,243.98 446.55,243.34 446.90,243.13 447.25,243.92 447.60,242.59 447.95,243.15 448.30,242.35 448.65,243.21 449.00,242.98 449.35,242.73 449.70,242.36 450.05,243.39 450.40,242.70 450.75,242.79 451.10,243.01 451.45,242.17 451.80,242.47 452.15,242.40 452.50,242.77 452.85,243.37 453.20,242.18 453.55,244.11 453.90,242.83 454.25,242.88 454.60,243.27 454.95,242.68 455.30,243.78 455.65,242.42 456.00,243.33 456.35,242.27 456.70,241.59 457.05,243.07 457.40,242.08 457.75,243.09 458.10,243.61 458.45,243.38 458.80,242.64 459.15,244.21 459.50,242.90 459.85,244.17 460.20,242.21 460.55,241.82 460.90,243.77 461.25,241.95 461.60,242.99 461.95,243.59 462.30,243.20 462.65,242.20 463.00,243.29 463.35,243.21 463.70,242.91 464.05,242.68 464.40,243.03 464.75,242.81 465.10,242.47 465.45,242.58 465.80,244.07 466.15,243.37 466.50,243.13 466.85,242.56 467.20,242.63 467.55,243.29 467.90,242.78 468.25,241.42 468.60,243.25 468.95,242.63 469.30,242.81 469.65,243.90 470.00,243.48 470.35,242.81 470.70,242.99 471.05,242.41 471.40,242.75 471.75,243.90 472.10,243.70 472.45,243.44 472.80,243.34 473.15,243.37 473.50,243.38 473.85,244.18 474.20,242.28 474.55,241.90 474.90,241.80 475.25,242.72 475.60,242.44 475.95,244.07 476.30,242.37 476.65,242.06 477.00,242.03 477.35,243.11 477.70,242.55 478.05,242.26 478.40,242.16 478.75,242.44 479.10,243.77 479.45,242.39 479.80,243.60 480.15,242.12 480.50,243.35 480.85,241.57 481.20,243.74 481.55,242.85 481.90,242.67 482.25,243.08 482.60,242.39 482.95,241.83 483.30,242.20 483.65,241.70 484.00,244.12 484.35,242.39 484.70,242.44 485.05,242.66 485.40,242.00 485.75,242.80 486.10,242.73 486.45,242.08 486.80,241.26 487.15,243.19 487.50,242.02 487.85,242.61 488.20,242.46 488.55,242.89 488.90,240.53 489.25,241.84 489.60,243.53 489.95,240.81 490.30,241.62 490.65,242.82 491.00,242.47 491.35,241.91 491.70,240.79 492.05,242.51 492.40,240.32 492.75,240.67 493.10,242.37 493.45,242.42 493.80,240.52 494.15,241.66 494.50,242.70 494.85,241.43 495.20,240.65 495.55,241.98 495.90,242.37 496.25,241.46 496.60,241.55 496.95,242.16 497.30,240.99 497.65,242.02 498.00,242.46 498.35,241.42 498.70,241.88 499.05,241.37 499.40,241.57 499.75,243.03 500.10,242.04 500.45,240.97 500.80,241.11 501.15,242.36 501.50,241.37 501.85,240.90 502.20,242.18 502.55,241.96 502.90,240.71 503.25,242.11 503.60,241.53 503.95,242.88 504.30,241.51 504.65,241.06 505.00,241.23 505.35,242.43 505.70,241.46 506.05,242.15 506.40,241.73 506.75,240.92 507.10,240.59 507.45,241.56 507.80,239.89 508.15,241.07 508.50,241.32 508.85,240.72 509.20,241.34 509.55,239.54 509.90,240.67 510.25,240.22 510.60,241.90 510.95,241.36 511.30,240.72 511.65,241.98 512.00,240.64 512.35,241.26 512.70,241.22 513.05,240.45 513.40,239.77 513.75,240.71 514.10,240.79 514.45,241.66 514.80,241.45 515.15,241.62 515.50,241.39 515.85,241.40 516.20,240.69 516.55,240.59 516.90,241.15 517.25,241.73 517.60,241.45 517.95,240.90 518.30,241.01 518.65,241.36 519.00,240.37 519.35,241.93 519.70,241.03 520.05,241.65 520.40,241.45 520.75,242.03 521.10,240.02 521.45,240.98 521.80,240.18 522.15,240.72 522.50,240.96 522.85,241.29 523.20,240.30 523.55,241.35 523.90,240.86 524.25,241.23 524.60,240.12 524.95,239.53 525.30,240.70 525.65,241.36 526.00,239.61 526.35,240.57 526.70,239.31 527.05,239.93 527.40,240.67 527.75,240.63 528.10,239.80 528.45,240.25 528.80,239.74 529.15,240.74 529.50,240.56 529.85,240.06 530.20,241.03 530.55,240.36 530.90,239.13 531.25,240.69 531.60,239.65 531.95,240.20 532.30,239.91 532.65,240.56 533.00,241.31 533.35,239.92 533.70,239.98 534.05,240.31 534.40,239.07 534.75,241.00 535.10,240.91 535.45,240.37 535.80,240.75 536.15,239.02 536.50,239.03 536.85,239.96 537.20,239.46 537.55,240.62 537.90,239.01 538.25,240.56 538.60,239.77 538.95,240.64 539.30,239.68 539.65,239.23 540.00,238.02 540.35,238.83 540.70,240.51 541.05,239.63 541.40,239.78 541.75,240.37 542.10,239.45 542.45,240.26 542.80,240.31 543.15,238.63 543.50,237.68 543.85,238.37 544.20,239.61 544.55,238.82 544.90,238.44 545.25,240.22 545.60,240.13 545.95,239.56 546.30,239.78 546.65,239.69 547.00,240.69 547.35,239.22 547.70,239.33 548.05,239.35 548.40,239.11 548.75,238.32 549.10,239.69 549.45,239.90 549.80,238.53 550.15,238.42 550.50,238.66 550.85,238.23 551.20,239.43 551.55,240.24 551.90,240.33 552.25,239.31 552.60,238.10 552.95,239.01 553.30,238.54 553.65,238.23 554.00,237.89 554.35,238.15 554.70,239.30 555.05,239.71 555.40,239.05 555.75,238.17 556.10,238.11 556.45,238.58 556.80,238.04 557.15,239.69 557.50,238.06 557.85,238.34 558.20,240.18 558.55,238.67 558.90,238.41 559.25,238.84 559.60,239.57 559.95,238.41 560.30,237.69 560.65,238.52 561.00,238.43 561.35,239.89 561.70,238.61 562.05,237.56 562.40,238.78 562.75,239.12 563.10,237.82 563.45,236.80 563.80,237.73 564.15,236.71 564.50,236.78 564.85,237.27 565.20,236.83 565.55,238.94 565.90,237.96 566.25,237.21 566.60,236.31 566.95,239.41 567.30,238.39 567.65,238.06 568.00,237.81 568.35,236.17 568.70,238.84 569.05,238.74 569.40,238.03 569.75,237.69 570.10,238.03 570.45,237.36 570.80,238.14 571.15,237.41 571.50,237.35 571.85,235.98 572.20,237.04 572.55,238.28 572.90,236.83 573.25,236.44 573.60,236.91 573.95,236.58 574.30,237.16 574.65,236.70 575.00,236.83 575.35,238.37 575.70,238.32 576.05,237.45 576.40,237.84 576.75,238.31 577.10,237.19 577.45,237.51 577.80,236.98 578.15,237.85 578.50,238.04 578.85,238.46 579.20,235.90 579.55,237.50 579.90,237.63 580.25,236.21 580.60,237.10 580.95,237.71 581.30,235.91 581.65,236.76 582.00,237.18 582.35,237.31 582.70,237.37 583.05,237.71 583.40,237.43 583.75,238.34 584.10,236.79 584.45,237.12 584.80,235.96 585.15,236.97 585.50,236.67 585.85,236.43 586.20,236.92 586.55,235.98 586.90,236.50 587.25,237.32 587.60,238.04 587.95,236.91 588.30,236.92 588.65,236.68 589.00,236.62 589.35,236.89 589.70,237.08 590.05,236.37 590.40,237.03 590.75,236.76 591.10,237.14 591.45,235.99" fill="none" stroke="#8a008a" stroke-width="1.20" stroke-linejoin="round"/>
<polyline points="404.50,245.00 404.60,258.20 406.60,266.30 410.70,272.50 420.90,275.50 441.30,275.50 480.00,273.50 519.00,268.80 541.00,264.50 563.00,261.20 578.30,259.00 589.30,255.00 591.50,254.50" fill="none" stroke="#000000" stroke-width="1.00" stroke-linejoin="round" stroke-dasharray="2.6,1.8"/>
<polyline points="395.00,276.97 395.35,277.25 395.70,280.04 396.05,277.06 396.40,276.01 396.75,277.93 397.10,277.77 397.45,278.36 397.80,277.20 398.15,279.24 398.50,278.29 398.85,280.35 399.20,278.25 399.55,277.91 399.90,279.20 400.25,278.60 400.60,276.77 400.95,278.52 401.30,276.88 401.65,278.99 402.00,276.98 402.35,278.03 402.70,276.75 403.05,278.00 403.40,279.17 403.75,278.91 404.30,277.60 404.70,265.00 405.10,266.00 405.60,269.43 405.90,270.20 406.20,270.17 406.50,271.36 406.80,269.08 407.10,269.68 407.40,269.67 407.70,270.18 408.00,273.16 408.30,272.50 408.60,271.39 408.90,271.69 409.20,274.42 409.50,271.76 409.80,272.74 410.10,274.22 410.40,275.40 410.70,275.68 411.00,273.62 411.30,272.88 411.60,273.32 411.90,275.44 412.20,275.40 412.50,276.87 412.80,276.59 413.10,276.97 413.40,274.39 413.70,274.37 414.00,275.81 414.30,276.42 414.60,274.99 414.90,277.66 415.20,274.01 415.50,276.02 415.80,275.07 416.10,276.82 416.40,276.99 416.70,276.01 417.00,276.94 417.30,278.17 417.60,275.73 417.90,275.73 418.20,275.52 418.50,276.36 418.80,275.63 419.10,274.70 419.40,277.86 419.70,275.53 420.00,274.21 420.30,277.83 420.60,275.67 420.90,277.97 421.20,278.67 421.50,275.98 421.80,275.77 422.10,278.66 422.40,275.10 422.70,275.69 423.00,276.21 423.30,276.23 423.60,278.80 423.90,277.03 424.20,274.90 424.50,279.01 424.80,277.97 425.10,276.97 425.40,279.44 425.70,278.30 426.00,278.11 426.30,276.36 426.60,277.12 426.90,279.06 427.20,277.96 427.50,276.82 427.80,275.38 428.10,277.71 428.40,277.34 428.70,278.37 429.00,277.97 429.30,278.19 429.60,277.12 429.90,277.56 430.20,276.49 430.50,277.48 430.80,277.54 431.10,277.49 431.40,276.04 431.70,277.52 432.00,276.79 432.30,275.67 432.60,276.98 432.90,277.74 433.20,276.32 433.50,278.88 433.80,277.31 434.10,278.22 434.40,277.69 434.70,274.65 435.00,274.51 435.30,277.40 435.60,276.26 435.90,276.11 436.20,277.44 436.50,277.21 436.80,277.09 437.10,275.56 437.40,278.46 437.70,273.95 438.00,277.96 438.30,276.03 438.60,277.71 438.90,276.74 439.20,277.03 439.50,278.45 439.80,275.82 440.10,273.95 440.40,275.75 440.70,273.58 441.00,275.69 441.30,275.52 441.60,277.10 441.90,275.70 442.20,276.90 442.50,274.53 442.80,276.79 443.10,276.15 443.40,277.61 443.70,279.27 444.00,277.27 444.30,277.46 444.60,275.22 444.90,275.50 445.20,278.60 445.50,274.17 445.80,275.93 446.10,276.84 446.40,277.43 446.70,275.53 447.00,276.22 447.30,276.87 447.60,277.82 447.90,276.24 448.20,275.82 448.50,277.67 448.80,277.37 449.10,275.41 449.40,276.49 449.70,275.89 450.00,276.11 450.30,273.89 450.60,276.27 450.90,275.86 451.20,274.33 451.50,275.84 451.80,274.73 452.10,275.05 452.40,275.46 452.70,278.49 453.00,277.20 453.30,274.43 453.60,277.30 453.90,275.34 454.20,277.41 454.50,276.62 454.80,277.33 455.10,276.93 455.40,275.13 455.70,274.93 456.00,275.87 456.30,275.96 456.60,277.09 456.90,278.63 457.20,275.87 457.50,278.06 457.80,276.23 458.10,276.30 458.40,274.27 458.70,275.62 459.00,276.30 459.30,275.17 459.60,274.51 459.90,275.42 460.20,276.79 460.50,276.50 460.80,274.50 461.10,276.47 461.40,275.04 461.70,274.70 462.00,276.98 462.30,275.81 462.60,275.39 462.90,275.12 463.20,271.98 463.50,276.28 463.80,276.94 464.10,271.92 464.40,271.90 464.70,274.39 465.00,276.31 465.30,275.45 465.60,275.66 465.90,273.90 466.20,273.63 466.50,275.38 466.80,273.19 467.10,276.41 467.40,275.71 467.70,274.64 468.00,273.79 468.30,276.78 468.60,274.65 468.90,272.42 469.20,273.54 469.50,272.15 469.80,275.65 470.10,273.17 470.40,274.50 470.70,275.11 471.00,276.15 471.30,272.65 471.60,275.29 471.90,273.89 472.20,274.28 472.50,271.59 472.80,274.52 473.10,274.69 473.40,274.81 473.70,275.17 474.00,273.38 474.30,272.25 474.60,275.13 474.90,272.57 475.20,277.41 475.50,273.82 475.80,271.64 476.10,275.29 476.40,274.05 476.70,273.30 477.00,273.54 477.30,273.79 477.60,272.32 477.90,275.50 478.20,275.69 478.50,274.22 478.80,273.17 479.10,274.50 479.40,275.48 479.70,274.67 480.00,273.77 480.30,274.52 480.60,272.48 480.90,275.10 481.20,275.91 481.50,275.03 481.80,275.18 482.10,274.65 482.40,272.28 482.70,275.75 483.00,275.50 483.30,272.61 483.60,273.57 483.90,274.92 484.20,274.52 484.50,272.49 484.80,272.49 485.10,272.29 485.40,274.22 485.70,274.92 486.00,274.83 486.30,273.42 486.60,274.14 486.90,273.11 487.20,275.16 487.50,273.81 487.80,273.31 488.10,275.29 488.40,273.67 488.70,273.27 489.00,272.39 489.30,273.59 489.60,275.57 489.90,272.21 490.20,275.08 490.50,272.16 490.80,272.52 491.10,274.92 491.40,272.33 491.70,273.14 492.00,273.00 492.30,275.19 492.60,274.16 492.90,272.84 493.20,272.94 493.50,273.95 493.80,272.54 494.10,274.27 494.40,274.83 494.70,274.31 495.00,272.04 495.30,275.17 495.60,273.36 495.90,275.29 496.20,273.99 496.50,273.13 496.80,270.92 497.10,275.62 497.40,272.24 497.70,273.77 498.00,274.44 498.30,275.00 498.60,271.86 498.90,275.29 499.20,272.24 499.50,272.67 499.80,275.60 500.10,272.77 500.40,272.85 500.70,271.13 501.00,272.87 501.30,269.73 501.60,273.04 501.90,273.59 502.20,272.78 502.50,271.35 502.80,274.98 503.10,272.37 503.40,271.83 503.70,272.43 504.00,271.21 504.30,271.37 504.60,270.54 504.90,271.36 505.20,269.77 505.50,272.72 505.80,271.71 506.10,271.87 506.40,272.59 506.70,271.54 507.00,274.57 507.30,270.57 507.60,272.42 507.90,272.90 508.20,271.67 508.50,270.73 508.80,270.55 509.10,273.47 509.40,271.62 509.70,272.50 510.00,269.47 510.30,271.06 510.60,272.41 510.90,271.66 511.20,271.75 511.50,270.64 511.80,272.94 512.10,271.46 512.40,272.56 512.70,272.30 513.00,270.83 513.30,271.49 513.60,271.68 513.90,270.40 514.20,271.44 514.50,270.54 514.80,269.59 515.10,271.49 515.40,271.64 515.70,272.32 516.00,271.97 516.30,270.21 516.60,270.23 516.90,272.62 517.20,270.28 517.50,268.82 517.80,268.87 518.10,270.12 518.40,273.30 518.70,269.25 519.00,272.68 519.30,270.04 519.60,270.53 519.90,269.74 520.20,273.10 520.50,272.60 520.80,269.85 521.10,271.37 521.40,268.76 521.70,270.09 522.00,271.00 522.30,270.13 522.60,271.27 522.90,267.70 523.20,273.54 523.50,270.14 523.80,268.16 524.10,269.35 524.40,268.42 524.70,269.12 525.00,271.61 525.30,270.29 525.60,271.82 525.90,271.77 526.20,272.79 526.50,269.22 526.80,268.89 527.10,270.51 527.40,271.89 527.70,271.85 528.00,270.01 528.30,270.70 528.60,272.36 528.90,271.73 529.20,268.07 529.50,271.07 529.80,271.22 530.10,270.50 530.40,269.80 530.70,267.68 531.00,270.33 531.30,271.10 531.60,270.80 531.90,267.16 532.20,271.06 532.50,270.58 532.80,270.96 533.10,268.48 533.40,269.79 533.70,268.51 534.00,269.29 534.30,269.48 534.60,269.92 534.90,267.88 535.20,270.63 535.50,272.05 535.80,269.40 536.10,269.61 536.40,269.18 536.70,268.73 537.00,268.83 537.30,268.60 537.60,271.16 537.90,269.40 538.20,267.69 538.50,267.85 538.80,268.51 539.10,267.07 539.40,269.55 539.70,270.10 540.00,266.80 540.30,267.50 540.60,267.96 540.90,267.66 541.20,269.79 541.50,266.53 541.80,268.67 542.10,269.41 542.40,271.10 542.70,268.60 543.00,268.85 543.30,270.01 543.60,266.55 543.90,268.01 544.20,269.95 544.50,267.52 544.80,268.78 545.10,269.28 545.40,268.54 545.70,269.13 546.00,267.84 546.30,266.09 546.60,266.13 546.90,266.00 547.20,268.70 547.50,267.69 547.80,267.09 548.10,265.83 548.40,270.61 548.70,268.06 549.00,265.83 549.30,268.37 549.60,267.36 549.90,268.41 550.20,269.46 550.50,269.18 550.80,267.36 551.10,266.95 551.40,266.51 551.70,265.05 552.00,265.29 552.30,269.25 552.60,266.14 552.90,265.26 553.20,265.84 553.50,263.67 553.80,267.34 554.10,265.64 554.40,266.61 554.70,265.59 555.00,263.48 555.30,269.02 555.60,266.30 555.90,265.15 556.20,265.10 556.50,266.01 556.80,265.96 557.10,264.88 557.40,265.08 557.70,266.69 558.00,267.96 558.30,264.72 558.60,266.33 558.90,267.51 559.20,267.88 559.50,265.04 559.80,264.79 560.10,265.15 560.40,266.67 560.70,267.71 561.00,266.12 561.30,264.79 561.60,265.00 561.90,266.82 562.20,265.38 562.50,265.56 562.80,266.26 563.10,265.63 563.40,266.25 563.70,264.51 564.00,266.00 564.30,266.94 564.60,265.88 564.90,266.69 565.20,266.95 565.50,265.88 565.80,267.49 566.10,266.82 566.40,266.90 566.70,265.71 567.00,266.04 567.30,267.48 567.60,265.18 567.90,267.04 568.20,262.67 568.50,263.81 568.80,264.91 569.10,266.57 569.40,265.31 569.70,264.15 570.00,266.65 570.30,264.75 570.60,264.69 570.90,264.53 571.20,264.49 571.50,264.75 571.80,265.95 572.10,266.14 572.40,262.46 572.70,268.65 573.00,264.08 573.30,265.45 573.60,263.47 573.90,266.20 574.20,264.71 574.50,266.39 574.80,264.52 575.10,266.70 575.40,263.56 575.70,265.41 576.00,266.19 576.30,264.63 576.60,262.26 576.90,262.21 577.20,264.80 577.50,262.46 577.80,265.12 578.10,263.99 578.40,263.93 578.70,263.79 579.00,264.18 579.30,265.05 579.60,265.03 579.90,261.65 580.20,265.23 580.50,263.29 580.80,266.22 581.10,263.10 581.40,262.46 581.70,262.59 582.00,264.07 582.30,263.79 582.60,262.61 582.90,262.63 583.20,262.38 583.50,265.52 583.80,263.67 584.10,263.11 584.40,263.47 584.70,263.65 585.00,263.06 585.30,263.86 585.60,264.43 585.90,263.34 586.20,263.11 586.50,262.46 586.80,263.95 587.10,262.95 587.40,263.52 587.70,262.12 588.00,264.00 588.30,261.84 588.60,263.56 588.90,261.63 589.20,262.24 589.50,265.22 589.80,263.26 590.10,262.64 590.40,263.52 590.70,263.68 591.00,262.45 591.30,261.40" fill="none" stroke="#15159a" stroke-width="1.20" stroke-linejoin="round"/>
<polyline points="404.50,316.80 404.70,260.70 405.10,270.00 405.50,294.49 405.85,297.11 406.20,301.31 406.55,303.59 406.90,304.83 407.25,306.52 407.60,306.74 407.95,307.42 408.30,307.22 408.65,308.33 409.00,308.35 409.35,308.44 409.70,308.89 410.05,309.84 410.40,309.96 410.75,310.98 411.10,310.77 411.45,310.25 411.80,311.01 412.15,310.61 412.50,311.40 412.85,311.19 413.20,311.34 413.55,311.90 413.90,313.12 414.25,311.85 414.60,312.91 414.95,312.98 415.30,312.52 415.65,313.15 416.00,313.27 416.35,314.74 416.70,313.49 417.05,313.46 417.40,314.45 417.75,313.85 418.10,315.04 418.45,313.56 418.80,313.73 419.15,313.27 419.50,313.62 419.85,314.50 420.20,314.72 420.55,314.43 420.90,314.37 421.25,314.01 421.60,315.52 421.95,315.86 422.30,315.84 422.65,316.50 423.00,315.24 423.35,314.58 423.70,313.90 424.05,314.54 424.40,315.14 424.75,315.78 425.10,315.05 425.45,314.39 425.80,316.22 426.15,316.56 426.50,315.07 426.85,316.41 427.20,314.43 427.55,316.15 427.90,314.61 428.25,315.34 428.60,316.39 428.95,315.97 429.30,316.94 429.65,315.58 430.00,316.40 430.35,316.49 430.70,315.81 431.05,315.97 431.40,316.28 431.75,315.90 432.10,315.82 432.45,315.45 432.80,314.53 433.15,314.91 433.50,314.86 433.85,316.17 434.20,314.56 434.55,314.80 434.90,313.82 435.25,315.47 435.60,314.90 435.95,315.43 436.30,315.48 436.65,315.42 437.00,316.11 437.35,315.98 437.70,315.74 438.05,315.78 438.40,314.98 438.75,314.21 439.10,315.26 439.45,314.99 439.80,315.42 440.15,314.59 440.50,314.88 440.85,314.51 441.20,315.34 441.55,314.95 441.90,314.54 442.25,315.09 442.60,314.25 442.95,314.13 443.30,314.24 443.65,314.52 444.00,314.30 444.35,314.94 444.70,314.12 445.05,314.47 445.40,313.75 445.75,313.39 446.10,314.27 446.45,315.34 446.80,315.54 447.15,315.23 447.50,313.79 447.85,314.41 448.20,314.28 448.55,314.44 448.90,314.60 449.25,314.46 449.60,314.75 449.95,315.14 450.30,315.31 450.65,314.04 451.00,314.91 451.35,314.13 451.70,313.67 452.05,314.17 452.40,314.44 452.75,314.67 453.10,314.25 453.45,314.58 453.80,314.72 454.15,314.34 454.50,314.83 454.85,313.65 455.20,314.26 455.55,313.46 455.90,312.97 456.25,314.34 456.60,313.92 456.95,314.55 457.30,314.08 457.65,314.35 458.00,314.58 458.35,314.14 458.70,313.80 459.05,313.75 459.40,313.53 459.75,314.07 460.10,313.99 460.45,313.52 460.80,312.99 461.15,314.22 461.50,313.66 461.85,312.63 462.20,314.53 462.55,313.91 462.90,314.28 463.25,314.98 463.60,313.79 463.95,314.84 464.30,312.72 464.65,313.61 465.00,314.04 465.35,312.49 465.70,314.04 466.05,313.12 466.40,312.83 466.75,312.19 467.10,313.52 467.45,312.64 467.80,313.69 468.15,312.21 468.50,312.46 468.85,313.23 469.20,311.64 469.55,313.42 469.90,313.01 470.25,314.24 470.60,312.99 470.95,312.98 471.30,312.50 471.65,311.56 472.00,312.27 472.35,312.85 472.70,311.39 473.05,311.84 473.40,311.68 473.75,312.57 474.10,311.04 474.45,312.48 474.80,312.63 475.15,311.41 475.50,311.86 475.85,312.49 476.20,311.11 476.55,312.24 476.90,311.48 477.25,312.54 477.60,311.03 477.95,311.64 478.30,312.34 478.65,311.59 479.00,311.70 479.35,311.75 479.70,312.58 480.05,311.70 480.40,312.32 480.75,311.06 481.10,311.63 481.45,311.72 481.80,311.34 482.15,311.61 482.50,312.28 482.85,311.89 483.20,311.88 483.55,312.04 483.90,311.85 484.25,310.87 484.60,310.89 484.95,311.88 485.30,311.71 485.65,311.18 486.00,311.25 486.35,310.91 486.70,311.19 487.05,311.19 487.40,311.67 487.75,311.39 488.10,311.14 488.45,310.80 488.80,311.13 489.15,310.68 489.50,311.93 489.85,310.13 490.20,311.14 490.55,310.72 490.90,311.72 491.25,311.34 491.60,311.06 491.95,311.18 492.30,310.88 492.65,309.90 493.00,311.76 493.35,309.91 493.70,310.33 494.05,310.62 494.40,311.52 494.75,310.88 495.10,310.94 495.45,310.39 495.80,311.64 496.15,310.54 496.50,312.00 496.85,310.79 497.20,310.24 497.55,310.23 497.90,310.87 498.25,310.96 498.60,311.29 498.95,310.89 499.30,310.48 499.65,310.51 500.00,309.61 500.35,309.81 500.70,310.63 501.05,310.42 501.40,310.85 501.75,309.50 502.10,310.14 502.45,309.54 502.80,310.77 503.15,310.14 503.50,309.11 503.85,309.42 504.20,310.50 504.55,309.97 504.90,309.99 505.25,308.98 505.60,309.15 505.95,309.42 506.30,309.10 506.65,309.64 507.00,310.71 507.35,309.92 507.70,309.14 508.05,309.44 508.40,308.75 508.75,308.84 509.10,309.15 509.45,308.56 509.80,308.62 510.15,309.25 510.50,309.83 510.85,309.00 511.20,307.99 511.55,308.14 511.90,308.86 512.25,308.43 512.60,308.62 512.95,307.92 513.30,309.53 513.65,307.25 514.00,307.30 514.35,308.85 514.70,307.93 515.05,308.26 515.40,307.30 515.75,308.39 516.10,307.26 516.45,307.83 516.80,308.49 517.15,308.30 517.50,307.52 517.85,306.86 518.20,307.75 518.55,308.51 518.90,307.64 519.25,306.94 519.60,307.19 519.95,307.94 520.30,305.99 520.65,306.47 521.00,307.17 521.35,307.02 521.70,306.89 522.05,307.77 522.40,307.71 522.75,306.50 523.10,307.01 523.45,306.43 523.80,306.67 524.15,307.15 524.50,307.33 524.85,307.10 525.20,305.83 525.55,305.72 525.90,306.06 526.25,305.41 526.60,306.94 526.95,306.32 527.30,305.69 527.65,305.93 528.00,306.04 528.35,307.09 528.70,305.97 529.05,305.87 529.40,306.65 529.75,304.82 530.10,305.14 530.45,305.90 530.80,305.82 531.15,304.68 531.50,304.87 531.85,305.57 532.20,304.83 532.55,304.90 532.90,305.25 533.25,306.94 533.60,304.95 533.95,305.39 534.30,305.47 534.65,305.24 535.00,305.75 535.35,306.38 535.70,306.36 536.05,305.92 536.40,306.69 536.75,306.37 537.10,304.92 537.45,305.38 537.80,306.19 538.15,306.31 538.50,305.41 538.85,305.69 539.20,306.10 539.55,306.41 539.90,304.76 540.25,306.42 540.60,306.36 540.95,306.11 541.30,305.78 541.65,305.25 542.00,305.95 542.35,306.12 542.70,305.73 543.05,305.44 543.40,305.29 543.75,305.24 544.10,305.51 544.45,304.65 544.80,304.08 545.15,304.38 545.50,303.83 545.85,303.98 546.20,304.47 546.55,304.37 546.90,304.01 547.25,303.73 547.60,304.29 547.95,304.14 548.30,303.51 548.65,303.06 549.00,303.16 549.35,303.16 549.70,303.00 550.05,302.43 550.40,302.14 550.75,302.69 551.10,303.65 551.45,302.76 551.80,302.16 552.15,302.08 552.50,301.83 552.85,301.78 553.20,301.71 553.55,302.38 553.90,301.04 554.25,302.85 554.60,302.39 554.95,301.17 555.30,300.87 555.65,301.35 556.00,302.08 556.35,301.26 556.70,300.78 557.05,302.08 557.40,301.01 557.75,301.78 558.10,301.16 558.45,300.59 558.80,301.67 559.15,301.67 559.50,301.56 559.85,301.85 560.20,301.80 560.55,300.58 560.90,300.92 561.25,300.99 561.60,300.32 561.95,302.10 562.30,300.24 562.65,300.01 563.00,300.96 563.35,301.01 563.70,301.20 564.05,300.88 564.40,300.20 564.75,301.04 565.10,300.04 565.45,301.46 565.80,299.73 566.15,299.65 566.50,301.70 566.85,300.63 567.20,299.51 567.55,299.98 567.90,299.63 568.25,298.51 568.60,299.66 568.95,300.48 569.30,299.32 569.65,299.18 570.00,299.67 570.35,299.75 570.70,299.82 571.05,300.79 571.40,299.07 571.75,298.60 572.10,299.59 572.45,298.95 572.80,299.09 573.15,298.13 573.50,299.94 573.85,299.36 574.20,299.93 574.55,298.64 574.90,297.85 575.25,298.94 575.60,298.77 575.95,298.13 576.30,298.91 576.65,296.95 577.00,297.83 577.35,296.87 577.70,297.33 578.05,297.38 578.40,296.39 578.75,296.83 579.10,297.35 579.45,296.92 579.80,296.84 580.15,296.68 580.50,297.41 580.85,297.31 581.20,296.30 581.55,297.07 581.90,297.36 582.25,295.87 582.60,296.75 582.95,295.20 583.30,296.21 583.65,295.31 584.00,295.23 584.35,295.69 584.70,296.41 585.05,295.09 585.40,295.71 585.75,295.10 586.10,294.86 586.45,294.67 586.80,294.70 587.15,294.38 587.50,294.33 587.85,293.72 588.20,293.71 588.55,293.83 588.90,293.20 589.25,294.14 589.60,292.51 589.95,293.81 590.30,292.37 590.65,293.21 591.00,292.65 591.35,291.98" fill="none" stroke="#0e9c9c" stroke-width="1.10" stroke-linejoin="round"/>
<polyline points="404.60,262.00 405.50,292.00 406.70,304.50 409.10,308.50 414.00,312.20 421.30,314.60 428.50,315.60 438.30,314.70 452.80,314.20 465.00,313.40 475.00,311.80 497.00,310.50 519.00,307.20 532.10,305.00 541.00,305.60 552.00,302.00 563.00,300.70 574.00,298.50 585.00,295.20 591.50,292.70" fill="none" stroke="#000000" stroke-width="1.00" stroke-linejoin="round" stroke-dasharray="2.6,1.8"/>
<polyline points="397.00,352.13 397.50,353.42 398.00,352.93 398.50,354.28 399.00,353.50 399.50,353.26 400.00,354.34 400.50,352.64 401.00,354.11 401.50,353.00 402.00,353.66 402.50,354.42 403.00,354.00 403.50,353.47 404.30,353.50 404.50,278.60 404.70,279.00 405.10,300.00 405.50,317.15 405.85,324.80 406.20,330.53 406.55,339.85 406.90,340.59 407.25,339.82 407.60,340.37 407.95,343.39 408.30,343.46 408.65,342.97 409.00,345.86 409.35,346.06 409.70,346.91 410.05,345.68 410.40,345.17 410.75,347.42 411.10,347.27 411.45,347.67 411.80,347.45 412.15,346.39 412.50,345.72 412.85,349.79 413.20,347.21 413.55,348.41 413.90,350.00 414.25,349.62 414.60,348.24 414.95,349.17 415.30,350.49 415.65,348.73 416.00,347.47 416.35,348.99 416.70,347.38 417.05,351.33 417.40,349.36 417.75,348.93 418.10,347.42 418.45,350.73 418.80,349.96 419.15,350.08 419.50,350.89 419.85,349.52 420.20,350.08 420.55,351.62 420.90,351.03 421.25,352.12 421.60,349.97 421.95,350.12 422.30,350.07 422.65,351.15 423.00,350.47 423.35,349.45 423.70,352.65 424.05,351.84 424.40,352.54 424.75,349.07 425.10,352.07 425.45,349.31 425.80,350.57 426.15,350.44 426.50,351.95 426.85,351.33 427.20,351.88 427.55,350.91 427.90,351.63 428.25,352.29 428.60,354.18 428.95,351.77 429.30,352.51 429.65,351.55 430.00,352.51 430.35,352.69 430.70,351.40 431.05,352.62 431.40,351.90 431.75,350.85 432.10,352.12 432.45,351.71 432.80,350.03 433.15,352.82 433.50,350.02 433.85,351.43 434.20,352.20 434.55,350.15 434.90,351.39 435.25,351.46 435.60,352.13 435.95,350.90 436.30,350.49 436.65,350.84 437.00,349.89 437.35,350.73 437.70,351.46 438.05,351.92 438.40,349.96 438.75,349.25 439.10,351.71 439.45,348.07 439.80,350.50 440.15,349.90 440.50,348.68 440.85,349.88 441.20,351.06 441.55,349.30 441.90,349.31 442.25,350.35 442.60,350.39 442.95,351.98 443.30,351.73 443.65,350.28 444.00,350.43 444.35,350.05 444.70,350.43 445.05,350.84 445.40,350.83 445.75,348.41 446.10,351.29 446.45,349.43 446.80,348.95 447.15,349.95 447.50,348.58 447.85,349.52 448.20,349.53 448.55,352.19 448.90,351.18 449.25,352.60 449.60,349.83 449.95,350.15 450.30,351.29 450.65,350.98 451.00,350.46 451.35,349.87 451.70,350.99 452.05,350.23 452.40,350.25 452.75,349.46 453.10,349.42 453.45,350.49 453.80,350.46 454.15,349.95 454.50,349.07 454.85,350.99 455.20,349.41 455.55,348.37 455.90,350.83 456.25,348.94 456.60,348.64 456.95,348.41 457.30,348.33 457.65,352.03 458.00,350.96 458.35,351.02 458.70,348.70 459.05,349.50 459.40,348.54 459.75,350.30 460.10,349.45 460.45,349.55 460.80,348.95 461.15,351.62 461.50,349.14 461.85,348.11 462.20,348.79 462.55,348.29 462.90,349.67 463.25,349.66 463.60,347.28 463.95,351.00 464.30,350.17 464.65,349.67 465.00,350.64 465.35,350.01 465.70,348.58 466.05,346.05 466.40,348.21 466.75,348.05 467.10,350.66 467.45,347.55 467.80,347.83 468.15,346.77 468.50,347.85 468.85,347.24 469.20,348.05 469.55,348.89 469.90,347.34 470.25,347.69 470.60,347.46 470.95,347.38 471.30,349.68 471.65,348.73 472.00,346.93 472.35,346.95 472.70,347.23 473.05,345.40 473.40,346.85 473.75,347.38 474.10,348.05 474.45,347.51 474.80,346.15 475.15,347.61 475.50,347.65 475.85,348.25 476.20,349.60 476.55,347.10 476.90,348.08 477.25,348.90 477.60,348.58 477.95,346.78 478.30,347.64 478.65,346.76 479.00,347.05 479.35,347.61 479.70,345.66 480.05,347.19 480.40,346.75 480.75,347.86 481.10,346.33 481.45,345.19 481.80,347.66 482.15,345.99 482.50,348.01 482.85,347.34 483.20,348.18 483.55,348.15 483.90,348.45 484.25,348.08 484.60,347.64 484.95,347.27 485.30,345.69 485.65,345.95 486.00,346.59 486.35,346.81 486.70,345.55 487.05,347.61 487.40,344.41 487.75,347.58 488.10,345.80 488.45,345.74 488.80,346.98 489.15,346.57 489.50,346.13 489.85,348.49 490.20,347.36 490.55,345.83 490.90,346.33 491.25,347.01 491.60,345.00 491.95,345.90 492.30,345.96 492.65,347.86 493.00,345.57 493.35,346.49 493.70,347.16 494.05,347.25 494.40,345.84 494.75,343.67 495.10,345.51 495.45,346.64 495.80,346.54 496.15,345.34 496.50,344.81 496.85,346.96 497.20,346.47 497.55,346.47 497.90,347.81 498.25,347.01 498.60,344.02 498.95,344.37 499.30,345.24 499.65,346.88 500.00,344.19 500.35,344.76 500.70,344.77 501.05,344.49 501.40,344.08 501.75,343.96 502.10,345.66 502.45,345.15 502.80,344.45 503.15,345.46 503.50,344.76 503.85,344.45 504.20,343.06 504.55,344.65 504.90,345.40 505.25,344.18 505.60,345.32 505.95,344.91 506.30,343.79 506.65,344.00 507.00,344.86 507.35,344.18 507.70,341.26 508.05,343.78 508.40,344.03 508.75,343.84 509.10,343.72 509.45,344.91 509.80,343.21 510.15,342.58 510.50,343.66 510.85,345.37 511.20,344.39 511.55,343.32 511.90,342.93 512.25,341.99 512.60,344.32 512.95,341.83 513.30,342.49 513.65,342.22 514.00,342.25 514.35,343.51 514.70,342.00 515.05,340.24 515.40,343.48 515.75,342.38 516.10,342.98 516.45,340.93 516.80,343.93 517.15,340.31 517.50,344.30 517.85,341.96 518.20,341.15 518.55,342.63 518.90,342.46 519.25,342.01 519.60,341.75 519.95,341.61 520.30,342.30 520.65,341.69 521.00,342.11 521.35,340.26 521.70,340.44 522.05,341.25 522.40,340.60 522.75,341.42 523.10,341.10 523.45,342.76 523.80,341.11 524.15,341.26 524.50,340.24 524.85,341.07 525.20,341.33 525.55,341.19 525.90,341.44 526.25,341.33 526.60,340.31 526.95,339.47 527.30,342.54 527.65,340.71 528.00,341.35 528.35,340.52 528.70,341.51 529.05,341.03 529.40,342.20 529.75,340.00 530.10,341.58 530.45,340.60 530.80,341.42 531.15,340.05 531.50,339.35 531.85,339.33 532.20,340.06 532.55,340.51 532.90,340.30 533.25,338.88 533.60,341.00 533.95,338.37 534.30,337.74 534.65,339.00 535.00,338.95 535.35,339.50 535.70,339.38 536.05,338.46 536.40,339.75 536.75,337.50 537.10,336.49 537.45,340.59 537.80,338.57 538.15,338.46 538.50,339.31 538.85,340.10 539.20,339.62 539.55,337.92 539.90,337.65 540.25,338.83 540.60,338.19 540.95,338.32 541.30,336.93 541.65,338.94 542.00,339.35 542.35,336.18 542.70,338.35 543.05,336.97 543.40,338.48 543.75,336.69 544.10,337.08 544.45,338.97 544.80,337.18 545.15,337.40 545.50,338.79 545.85,337.54 546.20,337.89 546.55,336.89 546.90,334.52 547.25,335.08 547.60,336.24 547.95,337.18 548.30,335.84 548.65,337.84 549.00,336.27 549.35,335.27 549.70,336.31 550.05,336.29 550.40,336.51 550.75,336.70 551.10,335.42 551.45,336.34 551.80,336.40 552.15,335.96 552.50,335.28 552.85,335.79 553.20,333.95 553.55,335.56 553.90,335.68 554.25,335.49 554.60,334.87 554.95,334.81 555.30,336.85 555.65,335.20 556.00,334.12 556.35,335.73 556.70,336.85 557.05,336.31 557.40,335.54 557.75,336.07 558.10,335.46 558.45,333.74 558.80,332.88 559.15,336.09 559.50,336.84 559.85,335.56 560.20,336.07 560.55,336.51 560.90,335.34 561.25,335.95 561.60,334.09 561.95,334.94 562.30,334.74 562.65,334.24 563.00,334.82 563.35,335.94 563.70,335.94 564.05,334.09 564.40,336.58 564.75,334.19 565.10,333.22 565.45,334.96 565.80,335.02 566.15,335.51 566.50,335.53 566.85,335.23 567.20,332.83 567.55,332.86 567.90,335.74 568.25,332.64 568.60,333.70 568.95,333.43 569.30,333.99 569.65,334.09 570.00,333.56 570.35,334.42 570.70,332.79 571.05,332.85 571.40,334.39 571.75,332.20 572.10,333.91 572.45,334.02 572.80,332.87 573.15,332.70 573.50,333.22 573.85,331.35 574.20,333.86 574.55,334.92 574.90,331.00 575.25,331.86 575.60,329.88 575.95,331.54 576.30,330.99 576.65,332.43 577.00,333.14 577.35,331.95 577.70,331.33 578.05,331.93 578.40,332.32 578.75,332.07 579.10,330.16 579.45,330.82 579.80,332.23 580.15,331.53 580.50,331.53 580.85,330.30 581.20,332.66 581.55,333.51 581.90,332.43 582.25,330.83 582.60,332.31 582.95,331.36 583.30,330.74 583.65,330.48 584.00,331.91 584.35,330.46 584.70,331.89 585.05,330.99 585.40,329.56 585.75,329.78 586.10,330.14 586.45,330.64 586.80,330.69 587.15,330.05 587.50,330.35 587.85,329.26 588.20,330.39 588.55,329.69 588.90,328.10 589.25,327.27 589.60,327.83 589.95,328.21 590.30,329.35 590.65,327.94 591.00,329.52 591.35,328.89" fill="none" stroke="#ff0000" stroke-width="1.20" stroke-linejoin="round"/>
<polyline points="404.60,280.00 405.50,318.00 406.70,339.50 409.10,344.80 414.00,348.50 428.50,352.00 440.70,350.00 452.80,349.80 475.00,347.30 497.00,345.60 519.00,341.30 530.00,340.20 541.00,338.00 552.00,335.80 563.00,334.80 574.00,332.50 585.00,330.30 591.50,328.40" fill="none" stroke="#000000" stroke-width="1.00" stroke-linejoin="round" stroke-dasharray="2.6,1.8"/>
<line x1="466.00" y1="243.20" x2="466.00" y2="248.20" stroke="#8a008a" stroke-width="0.90"/>
<line x1="466.00" y1="275.50" x2="466.00" y2="281.50" stroke="#15159a" stroke-width="0.90"/>
<line x1="466.00" y1="349.50" x2="466.00" y2="357.00" stroke="#ff0000" stroke-width="0.90"/>
<line x1="401.00" y1="363.80" x2="598.00" y2="363.80" stroke="#444444" stroke-width="1.00"/>
<line x1="401.00" y1="363.80" x2="598.00" y2="363.80" stroke="#ff2020" stroke-width="1.00" stroke-dasharray="0.9,7.1"/>
<line x1="404.60" y1="363.80" x2="404.60" y2="366.40" stroke="#444444" stroke-width="1.00"/>
<line x1="426.00" y1="363.80" x2="426.00" y2="365.40" stroke="#444444" stroke-width="1.00"/>
<line x1="447.40" y1="363.80" x2="447.40" y2="366.40" stroke="#444444" stroke-width="1.00"/>
<line x1="468.80" y1="363.80" x2="468.80" y2="365.40" stroke="#444444" stroke-width="1.00"/>
<line x1="490.20" y1="363.80" x2="490.20" y2="366.40" stroke="#444444" stroke-width="1.00"/>
<line x1="511.60" y1="363.80" x2="511.60" y2="365.40" stroke="#444444" stroke-width="1.00"/>
<line x1="533.00" y1="363.80" x2="533.00" y2="366.40" stroke="#444444" stroke-width="1.00"/>
<line x1="554.40" y1="363.80" x2="554.40" y2="365.40" stroke="#444444" stroke-width="1.00"/>
<line x1="575.80" y1="363.80" x2="575.80" y2="366.40" stroke="#444444" stroke-width="1.00"/>
<line x1="597.20" y1="363.80" x2="597.20" y2="365.40" stroke="#444444" stroke-width="1.00"/>
<text x="404.60" y="376.00" font-size="7.30" fill="#111" text-anchor="middle"  stroke="#111" stroke-width="0.25">0</text>
<text x="447.35" y="376.00" font-size="7.30" fill="#111" text-anchor="middle"  stroke="#111" stroke-width="0.25">1000</text>
<text x="490.10" y="376.00" font-size="7.30" fill="#111" text-anchor="middle"  stroke="#111" stroke-width="0.25">2000</text>
<text x="532.85" y="376.00" font-size="7.30" fill="#111" text-anchor="middle"  stroke="#111" stroke-width="0.25">3000</text>
<text x="575.60" y="376.00" font-size="7.30" fill="#111" text-anchor="middle"  stroke="#111" stroke-width="0.25">4000</text>
<text x="483.60" y="389.10" font-size="12.60" fill="#000" text-anchor="start" textLength="40.2" lengthAdjust="spacingAndGlyphs" stroke="#000" stroke-width="0.25">time / s</text>
<text x="594.30" y="60.20" font-size="12.00" fill="#000" stroke="#000" stroke-width="0.25">j<tspan font-size="8.30" dy="3.20">e</tspan></text>
<text x="597.00" y="109.90" font-size="12.00" fill="#2a8a2a" stroke="#2a8a2a" stroke-width="0.25">j<tspan font-size="8.30" dy="3.20">Σ</tspan></text>
<text x="597.30" y="174.00" font-size="12.00" fill="#f58a24" stroke="#f58a24" stroke-width="0.25">j<tspan font-size="8.30" dy="3.20">Co</tspan></text>
<line x1="611.07" y1="166.30" x2="611.97" y2="164.00" stroke="#f58a24" stroke-width="1.1" stroke-linecap="round"/>
<text x="597.60" y="234.40" font-size="12.00" fill="#7b3aa8" stroke="#7b3aa8" stroke-width="0.25">j<tspan font-size="8.30" dy="3.20">Mn</tspan></text>
<line x1="612.29" y1="226.70" x2="613.19" y2="224.40" stroke="#7b3aa8" stroke-width="1.1" stroke-linecap="round"/>
<text x="598.00" y="264.00" font-size="12.00" fill="#27279a" stroke="#27279a" stroke-width="0.25">j<tspan font-size="8.30" dy="3.20">Cr</tspan></text>
<line x1="609.92" y1="256.30" x2="610.82" y2="254.00" stroke="#27279a" stroke-width="1.1" stroke-linecap="round"/>
<text x="597.60" y="296.10" font-size="12.00" fill="#2a9595" stroke="#2a9595" stroke-width="0.25">j<tspan font-size="8.30" dy="3.20">Fe</tspan></text>
<line x1="610.45" y1="288.40" x2="611.35" y2="286.10" stroke="#2a9595" stroke-width="1.1" stroke-linecap="round"/>
<text x="597.00" y="331.30" font-size="12.00" fill="#f01818" stroke="#f01818" stroke-width="0.25">j<tspan font-size="8.30" dy="3.20">Ni</tspan></text>
<text transform="translate(352.6,356.0) rotate(-90)" font-size="11.6" fill="#000" textLength="51" lengthAdjust="spacingAndGlyphs" stroke="#000" stroke-width="0.25">5 µA cm<tspan font-size="7.5" dy="-3.5">-2</tspan></text>
<line x1="365.30" y1="327.50" x2="365.30" y2="347.80" stroke="#000" stroke-width="0.90"/>
<polygon points="365.30,323.80 363.30,328.40 367.30,328.40" fill="#000"/>
<polygon points="365.30,351.50 363.30,346.90 367.30,346.90" fill="#000"/>
</svg>
</body></html>
